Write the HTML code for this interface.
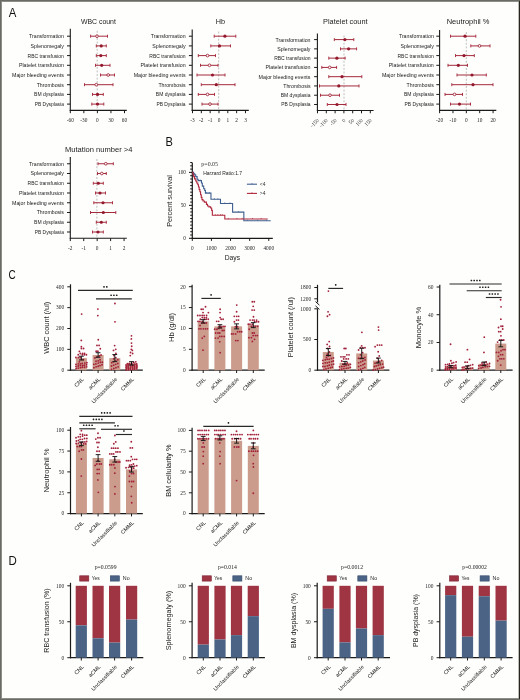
<!DOCTYPE html>
<html><head><meta charset="utf-8"><style>
html,body{margin:0;padding:0;background:#fefefd;overflow:hidden;}
#f{position:absolute;left:0;top:0;width:520px;height:700px;overflow:hidden;background:#fefefd;}
.b{position:absolute;}
#br2{left:518px;top:1px;width:1px;height:698px;background:#bdbdb7;}
#br{left:519px;top:1px;width:1px;height:698px;background:#26261e;}
#bt2{left:1px;top:1px;width:518px;height:1px;background:#8e8e89;}
#bt{left:0;top:0;width:520px;height:1px;background:#6b6b66;}
#bl2{left:1px;top:1px;width:1px;height:698px;background:#8e8e89;}
#bl{left:0;top:0;width:1px;height:700px;background:#6b6b66;}
#bb2{left:1px;top:698px;width:518px;height:1px;background:#8e8e89;}
#bb{left:0;top:699px;width:520px;height:1px;background:#6b6b66;}
svg{position:absolute;left:0;top:0;will-change:transform;}
text{font-family:"Liberation Sans", sans-serif;}
text.sf{font-family:"Liberation Serif", serif;}
</style></head><body><div id="f">
<svg width="520" height="700" viewBox="0 0 520 700">
<text x="98.40" y="24.20" font-size="7.6" text-anchor="middle" fill="#222" textLength="35.00" lengthAdjust="spacingAndGlyphs">WBC count</text>
<line x1="70.30" y1="28.80" x2="70.30" y2="110.90" stroke="#1a1a1a" stroke-width="1.1"/>
<line x1="69.80" y1="110.40" x2="126.80" y2="110.40" stroke="#1a1a1a" stroke-width="1.1"/>
<line x1="97.20" y1="30.80" x2="97.20" y2="109.40" stroke="#a8a8a8" stroke-width="0.75" stroke-dasharray="2 1.6"/>
<line x1="67.00" y1="36.20" x2="70.30" y2="36.20" stroke="#1a1a1a" stroke-width="1.0"/>
<text x="63.90" y="38.10" font-size="5.3" text-anchor="end" fill="#1a1a1a" textLength="34.90" lengthAdjust="spacingAndGlyphs">Transformation</text>
<line x1="67.00" y1="45.90" x2="70.30" y2="45.90" stroke="#1a1a1a" stroke-width="1.0"/>
<text x="63.90" y="47.80" font-size="5.3" text-anchor="end" fill="#1a1a1a" textLength="33.30" lengthAdjust="spacingAndGlyphs">Splenomegaly</text>
<line x1="67.00" y1="55.60" x2="70.30" y2="55.60" stroke="#1a1a1a" stroke-width="1.0"/>
<text x="63.90" y="57.50" font-size="5.3" text-anchor="end" fill="#1a1a1a" textLength="36.30" lengthAdjust="spacingAndGlyphs">RBC transfusion</text>
<line x1="67.00" y1="65.30" x2="70.30" y2="65.30" stroke="#1a1a1a" stroke-width="1.0"/>
<text x="63.90" y="67.20" font-size="5.3" text-anchor="end" fill="#1a1a1a" textLength="45.00" lengthAdjust="spacingAndGlyphs">Platelet transfusion</text>
<line x1="67.00" y1="75.00" x2="70.30" y2="75.00" stroke="#1a1a1a" stroke-width="1.0"/>
<text x="63.90" y="76.90" font-size="5.3" text-anchor="end" fill="#1a1a1a" textLength="51.90" lengthAdjust="spacingAndGlyphs">Major bleeding events</text>
<line x1="67.00" y1="84.70" x2="70.30" y2="84.70" stroke="#1a1a1a" stroke-width="1.0"/>
<text x="63.90" y="86.60" font-size="5.3" text-anchor="end" fill="#1a1a1a" textLength="27.20" lengthAdjust="spacingAndGlyphs">Thrombosis</text>
<line x1="67.00" y1="94.40" x2="70.30" y2="94.40" stroke="#1a1a1a" stroke-width="1.0"/>
<text x="63.90" y="96.30" font-size="5.3" text-anchor="end" fill="#1a1a1a" textLength="29.80" lengthAdjust="spacingAndGlyphs">BM dysplasia</text>
<line x1="67.00" y1="104.10" x2="70.30" y2="104.10" stroke="#1a1a1a" stroke-width="1.0"/>
<text x="63.90" y="106.00" font-size="5.3" text-anchor="end" fill="#1a1a1a" textLength="29.20" lengthAdjust="spacingAndGlyphs">PB Dysplasia</text>
<line x1="70.30" y1="110.40" x2="70.30" y2="113.20" stroke="#1a1a1a" stroke-width="1.0"/>
<text x="70.30" y="121.50" font-size="5.3" text-anchor="middle" fill="#1e1e1e" class="sf">-60</text>
<line x1="83.85" y1="110.40" x2="83.85" y2="113.20" stroke="#1a1a1a" stroke-width="1.0"/>
<text x="83.85" y="121.50" font-size="5.3" text-anchor="middle" fill="#1e1e1e" class="sf">-30</text>
<line x1="97.40" y1="110.40" x2="97.40" y2="113.20" stroke="#1a1a1a" stroke-width="1.0"/>
<text x="97.40" y="121.50" font-size="5.3" text-anchor="middle" fill="#1e1e1e" class="sf">0</text>
<line x1="110.95" y1="110.40" x2="110.95" y2="113.20" stroke="#1a1a1a" stroke-width="1.0"/>
<text x="110.95" y="121.50" font-size="5.3" text-anchor="middle" fill="#1e1e1e" class="sf">30</text>
<line x1="124.50" y1="110.40" x2="124.50" y2="113.20" stroke="#1a1a1a" stroke-width="1.0"/>
<text x="124.50" y="121.50" font-size="5.3" text-anchor="middle" fill="#1e1e1e" class="sf">60</text>
<line x1="90.60" y1="36.20" x2="107.50" y2="36.20" stroke="#a52a3c" stroke-width="1.0"/>
<line x1="90.60" y1="34.70" x2="90.60" y2="37.70" stroke="#a52a3c" stroke-width="0.95"/>
<line x1="107.50" y1="34.70" x2="107.50" y2="37.70" stroke="#a52a3c" stroke-width="0.95"/>
<circle cx="97.00" cy="36.20" r="1.35" fill="#ffffff" stroke="#9c1f33" stroke-width="0.85"/>
<line x1="96.30" y1="45.90" x2="106.30" y2="45.90" stroke="#a52a3c" stroke-width="1.0"/>
<line x1="96.30" y1="44.40" x2="96.30" y2="47.40" stroke="#a52a3c" stroke-width="0.95"/>
<line x1="106.30" y1="44.40" x2="106.30" y2="47.40" stroke="#a52a3c" stroke-width="0.95"/>
<circle cx="101.20" cy="45.90" r="1.6" fill="#94192d"/>
<line x1="96.30" y1="55.60" x2="106.30" y2="55.60" stroke="#a52a3c" stroke-width="1.0"/>
<line x1="96.30" y1="54.10" x2="96.30" y2="57.10" stroke="#a52a3c" stroke-width="0.95"/>
<line x1="106.30" y1="54.10" x2="106.30" y2="57.10" stroke="#a52a3c" stroke-width="0.95"/>
<circle cx="100.80" cy="55.60" r="1.6" fill="#94192d"/>
<line x1="95.50" y1="65.30" x2="110.00" y2="65.30" stroke="#a52a3c" stroke-width="1.0"/>
<line x1="95.50" y1="63.80" x2="95.50" y2="66.80" stroke="#a52a3c" stroke-width="0.95"/>
<line x1="110.00" y1="63.80" x2="110.00" y2="66.80" stroke="#a52a3c" stroke-width="0.95"/>
<circle cx="101.70" cy="65.30" r="1.6" fill="#94192d"/>
<line x1="100.50" y1="75.00" x2="114.50" y2="75.00" stroke="#a52a3c" stroke-width="1.0"/>
<line x1="100.50" y1="73.50" x2="100.50" y2="76.50" stroke="#a52a3c" stroke-width="0.95"/>
<line x1="114.50" y1="73.50" x2="114.50" y2="76.50" stroke="#a52a3c" stroke-width="0.95"/>
<circle cx="108.20" cy="75.00" r="1.35" fill="#ffffff" stroke="#9c1f33" stroke-width="0.85"/>
<line x1="84.50" y1="84.70" x2="113.00" y2="84.70" stroke="#a52a3c" stroke-width="1.0"/>
<line x1="84.50" y1="83.20" x2="84.50" y2="86.20" stroke="#a52a3c" stroke-width="0.95"/>
<line x1="113.00" y1="83.20" x2="113.00" y2="86.20" stroke="#a52a3c" stroke-width="0.95"/>
<circle cx="96.30" cy="84.70" r="1.35" fill="#ffffff" stroke="#9c1f33" stroke-width="0.85"/>
<line x1="92.50" y1="94.40" x2="103.30" y2="94.40" stroke="#a52a3c" stroke-width="1.0"/>
<line x1="92.50" y1="92.90" x2="92.50" y2="95.90" stroke="#a52a3c" stroke-width="0.95"/>
<line x1="103.30" y1="92.90" x2="103.30" y2="95.90" stroke="#a52a3c" stroke-width="0.95"/>
<circle cx="97.50" cy="94.40" r="1.6" fill="#94192d"/>
<line x1="91.80" y1="104.10" x2="103.80" y2="104.10" stroke="#a52a3c" stroke-width="1.0"/>
<line x1="91.80" y1="102.60" x2="91.80" y2="105.60" stroke="#a52a3c" stroke-width="0.95"/>
<line x1="103.80" y1="102.60" x2="103.80" y2="105.60" stroke="#a52a3c" stroke-width="0.95"/>
<circle cx="97.50" cy="104.10" r="1.6" fill="#94192d"/>
<text x="220.40" y="24.20" font-size="7.6" text-anchor="middle" fill="#222" textLength="9.30" lengthAdjust="spacingAndGlyphs">Hb</text>
<line x1="192.20" y1="29.50" x2="192.20" y2="110.90" stroke="#1a1a1a" stroke-width="1.1"/>
<line x1="191.70" y1="110.40" x2="248.80" y2="110.40" stroke="#1a1a1a" stroke-width="1.1"/>
<line x1="218.70" y1="31.50" x2="218.70" y2="109.40" stroke="#a8a8a8" stroke-width="0.75" stroke-dasharray="2 1.6"/>
<line x1="188.90" y1="36.20" x2="192.20" y2="36.20" stroke="#1a1a1a" stroke-width="1.0"/>
<text x="185.60" y="38.10" font-size="5.3" text-anchor="end" fill="#1a1a1a" textLength="34.90" lengthAdjust="spacingAndGlyphs">Transformation</text>
<line x1="188.90" y1="45.90" x2="192.20" y2="45.90" stroke="#1a1a1a" stroke-width="1.0"/>
<text x="185.60" y="47.80" font-size="5.3" text-anchor="end" fill="#1a1a1a" textLength="33.30" lengthAdjust="spacingAndGlyphs">Splenomegaly</text>
<line x1="188.90" y1="55.60" x2="192.20" y2="55.60" stroke="#1a1a1a" stroke-width="1.0"/>
<text x="185.60" y="57.50" font-size="5.3" text-anchor="end" fill="#1a1a1a" textLength="36.30" lengthAdjust="spacingAndGlyphs">RBC transfusion</text>
<line x1="188.90" y1="65.30" x2="192.20" y2="65.30" stroke="#1a1a1a" stroke-width="1.0"/>
<text x="185.60" y="67.20" font-size="5.3" text-anchor="end" fill="#1a1a1a" textLength="45.00" lengthAdjust="spacingAndGlyphs">Platelet transfusion</text>
<line x1="188.90" y1="75.00" x2="192.20" y2="75.00" stroke="#1a1a1a" stroke-width="1.0"/>
<text x="185.60" y="76.90" font-size="5.3" text-anchor="end" fill="#1a1a1a" textLength="51.90" lengthAdjust="spacingAndGlyphs">Major bleeding events</text>
<line x1="188.90" y1="84.70" x2="192.20" y2="84.70" stroke="#1a1a1a" stroke-width="1.0"/>
<text x="185.60" y="86.60" font-size="5.3" text-anchor="end" fill="#1a1a1a" textLength="27.20" lengthAdjust="spacingAndGlyphs">Thrombosis</text>
<line x1="188.90" y1="94.40" x2="192.20" y2="94.40" stroke="#1a1a1a" stroke-width="1.0"/>
<text x="185.60" y="96.30" font-size="5.3" text-anchor="end" fill="#1a1a1a" textLength="29.80" lengthAdjust="spacingAndGlyphs">BM dysplasia</text>
<line x1="188.90" y1="104.10" x2="192.20" y2="104.10" stroke="#1a1a1a" stroke-width="1.0"/>
<text x="185.60" y="106.00" font-size="5.3" text-anchor="end" fill="#1a1a1a" textLength="29.20" lengthAdjust="spacingAndGlyphs">PB Dysplasia</text>
<line x1="192.50" y1="110.40" x2="192.50" y2="113.20" stroke="#1a1a1a" stroke-width="1.0"/>
<text x="192.50" y="121.50" font-size="5.3" text-anchor="middle" fill="#1e1e1e" class="sf">-3</text>
<line x1="201.33" y1="110.40" x2="201.33" y2="113.20" stroke="#1a1a1a" stroke-width="1.0"/>
<text x="201.33" y="121.50" font-size="5.3" text-anchor="middle" fill="#1e1e1e" class="sf">-2</text>
<line x1="210.16" y1="110.40" x2="210.16" y2="113.20" stroke="#1a1a1a" stroke-width="1.0"/>
<text x="210.16" y="121.50" font-size="5.3" text-anchor="middle" fill="#1e1e1e" class="sf">-1</text>
<line x1="218.99" y1="110.40" x2="218.99" y2="113.20" stroke="#1a1a1a" stroke-width="1.0"/>
<text x="218.99" y="121.50" font-size="5.3" text-anchor="middle" fill="#1e1e1e" class="sf">0</text>
<line x1="227.82" y1="110.40" x2="227.82" y2="113.20" stroke="#1a1a1a" stroke-width="1.0"/>
<text x="227.82" y="121.50" font-size="5.3" text-anchor="middle" fill="#1e1e1e" class="sf">1</text>
<line x1="236.65" y1="110.40" x2="236.65" y2="113.20" stroke="#1a1a1a" stroke-width="1.0"/>
<text x="236.65" y="121.50" font-size="5.3" text-anchor="middle" fill="#1e1e1e" class="sf">2</text>
<line x1="245.48" y1="110.40" x2="245.48" y2="113.20" stroke="#1a1a1a" stroke-width="1.0"/>
<text x="245.48" y="121.50" font-size="5.3" text-anchor="middle" fill="#1e1e1e" class="sf">3</text>
<line x1="214.20" y1="36.20" x2="235.80" y2="36.20" stroke="#a52a3c" stroke-width="1.0"/>
<line x1="214.20" y1="34.70" x2="214.20" y2="37.70" stroke="#a52a3c" stroke-width="0.95"/>
<line x1="235.80" y1="34.70" x2="235.80" y2="37.70" stroke="#a52a3c" stroke-width="0.95"/>
<circle cx="224.90" cy="36.20" r="1.6" fill="#94192d"/>
<line x1="210.80" y1="45.90" x2="230.50" y2="45.90" stroke="#a52a3c" stroke-width="1.0"/>
<line x1="210.80" y1="44.40" x2="210.80" y2="47.40" stroke="#a52a3c" stroke-width="0.95"/>
<line x1="230.50" y1="44.40" x2="230.50" y2="47.40" stroke="#a52a3c" stroke-width="0.95"/>
<circle cx="219.50" cy="45.90" r="1.6" fill="#94192d"/>
<line x1="198.30" y1="55.60" x2="215.50" y2="55.60" stroke="#a52a3c" stroke-width="1.0"/>
<line x1="198.30" y1="54.10" x2="198.30" y2="57.10" stroke="#a52a3c" stroke-width="0.95"/>
<line x1="215.50" y1="54.10" x2="215.50" y2="57.10" stroke="#a52a3c" stroke-width="0.95"/>
<circle cx="207.50" cy="55.60" r="1.35" fill="#ffffff" stroke="#9c1f33" stroke-width="0.85"/>
<line x1="200.50" y1="65.30" x2="218.00" y2="65.30" stroke="#a52a3c" stroke-width="1.0"/>
<line x1="200.50" y1="63.80" x2="200.50" y2="66.80" stroke="#a52a3c" stroke-width="0.95"/>
<line x1="218.00" y1="63.80" x2="218.00" y2="66.80" stroke="#a52a3c" stroke-width="0.95"/>
<circle cx="209.50" cy="65.30" r="1.35" fill="#ffffff" stroke="#9c1f33" stroke-width="0.85"/>
<line x1="197.00" y1="75.00" x2="225.00" y2="75.00" stroke="#a52a3c" stroke-width="1.0"/>
<line x1="197.00" y1="73.50" x2="197.00" y2="76.50" stroke="#a52a3c" stroke-width="0.95"/>
<line x1="225.00" y1="73.50" x2="225.00" y2="76.50" stroke="#a52a3c" stroke-width="0.95"/>
<circle cx="212.50" cy="75.00" r="1.6" fill="#94192d"/>
<line x1="201.30" y1="84.70" x2="235.00" y2="84.70" stroke="#a52a3c" stroke-width="1.0"/>
<line x1="201.30" y1="83.20" x2="201.30" y2="86.20" stroke="#a52a3c" stroke-width="0.95"/>
<line x1="235.00" y1="83.20" x2="235.00" y2="86.20" stroke="#a52a3c" stroke-width="0.95"/>
<circle cx="216.30" cy="84.70" r="1.6" fill="#94192d"/>
<line x1="198.30" y1="94.40" x2="214.50" y2="94.40" stroke="#a52a3c" stroke-width="1.0"/>
<line x1="198.30" y1="92.90" x2="198.30" y2="95.90" stroke="#a52a3c" stroke-width="0.95"/>
<line x1="214.50" y1="92.90" x2="214.50" y2="95.90" stroke="#a52a3c" stroke-width="0.95"/>
<circle cx="207.50" cy="94.40" r="1.35" fill="#ffffff" stroke="#9c1f33" stroke-width="0.85"/>
<line x1="202.00" y1="104.10" x2="218.00" y2="104.10" stroke="#a52a3c" stroke-width="1.0"/>
<line x1="202.00" y1="102.60" x2="202.00" y2="105.60" stroke="#a52a3c" stroke-width="0.95"/>
<line x1="218.00" y1="102.60" x2="218.00" y2="105.60" stroke="#a52a3c" stroke-width="0.95"/>
<circle cx="210.00" cy="104.10" r="1.35" fill="#ffffff" stroke="#9c1f33" stroke-width="0.85"/>
<text x="345.30" y="24.20" font-size="7.6" text-anchor="middle" fill="#222" textLength="44.50" lengthAdjust="spacingAndGlyphs">Platelet count</text>
<line x1="317.40" y1="33.50" x2="317.40" y2="111.00" stroke="#1a1a1a" stroke-width="1.1"/>
<line x1="316.90" y1="110.50" x2="373.60" y2="110.50" stroke="#1a1a1a" stroke-width="1.1"/>
<line x1="344.00" y1="35.50" x2="344.00" y2="109.50" stroke="#a8a8a8" stroke-width="0.75" stroke-dasharray="2 1.6"/>
<line x1="314.10" y1="39.60" x2="317.40" y2="39.60" stroke="#1a1a1a" stroke-width="1.0"/>
<text x="310.50" y="41.50" font-size="5.3" text-anchor="end" fill="#1a1a1a" textLength="34.90" lengthAdjust="spacingAndGlyphs">Transformation</text>
<line x1="314.10" y1="48.87" x2="317.40" y2="48.87" stroke="#1a1a1a" stroke-width="1.0"/>
<text x="310.50" y="50.77" font-size="5.3" text-anchor="end" fill="#1a1a1a" textLength="33.30" lengthAdjust="spacingAndGlyphs">Splenomegaly</text>
<line x1="314.10" y1="58.14" x2="317.40" y2="58.14" stroke="#1a1a1a" stroke-width="1.0"/>
<text x="310.50" y="60.04" font-size="5.3" text-anchor="end" fill="#1a1a1a" textLength="36.30" lengthAdjust="spacingAndGlyphs">RBC transfusion</text>
<line x1="314.10" y1="67.41" x2="317.40" y2="67.41" stroke="#1a1a1a" stroke-width="1.0"/>
<text x="310.50" y="69.31" font-size="5.3" text-anchor="end" fill="#1a1a1a" textLength="45.00" lengthAdjust="spacingAndGlyphs">Platelet transfusion</text>
<line x1="314.10" y1="76.68" x2="317.40" y2="76.68" stroke="#1a1a1a" stroke-width="1.0"/>
<text x="310.50" y="78.58" font-size="5.3" text-anchor="end" fill="#1a1a1a" textLength="51.90" lengthAdjust="spacingAndGlyphs">Major bleeding events</text>
<line x1="314.10" y1="85.95" x2="317.40" y2="85.95" stroke="#1a1a1a" stroke-width="1.0"/>
<text x="310.50" y="87.85" font-size="5.3" text-anchor="end" fill="#1a1a1a" textLength="27.20" lengthAdjust="spacingAndGlyphs">Thrombosis</text>
<line x1="314.10" y1="95.22" x2="317.40" y2="95.22" stroke="#1a1a1a" stroke-width="1.0"/>
<text x="310.50" y="97.12" font-size="5.3" text-anchor="end" fill="#1a1a1a" textLength="29.80" lengthAdjust="spacingAndGlyphs">BM dysplasia</text>
<line x1="314.10" y1="104.49" x2="317.40" y2="104.49" stroke="#1a1a1a" stroke-width="1.0"/>
<text x="310.50" y="106.39" font-size="5.3" text-anchor="end" fill="#1a1a1a" textLength="29.20" lengthAdjust="spacingAndGlyphs">PB Dysplasia</text>
<line x1="317.50" y1="110.50" x2="317.50" y2="113.30" stroke="#1a1a1a" stroke-width="1.0"/>
<text x="319.50" y="120.70" font-size="5.5" text-anchor="end" fill="#333" class="sf" transform="rotate(-45 319.50 120.70)">-150</text>
<line x1="326.30" y1="110.50" x2="326.30" y2="113.30" stroke="#1a1a1a" stroke-width="1.0"/>
<text x="328.30" y="120.70" font-size="5.5" text-anchor="end" fill="#333" class="sf" transform="rotate(-45 328.30 120.70)">-100</text>
<line x1="335.10" y1="110.50" x2="335.10" y2="113.30" stroke="#1a1a1a" stroke-width="1.0"/>
<text x="337.10" y="120.70" font-size="5.5" text-anchor="end" fill="#333" class="sf" transform="rotate(-45 337.10 120.70)">-50</text>
<line x1="343.90" y1="110.50" x2="343.90" y2="113.30" stroke="#1a1a1a" stroke-width="1.0"/>
<text x="345.90" y="120.70" font-size="5.5" text-anchor="end" fill="#333" class="sf" transform="rotate(-45 345.90 120.70)">0</text>
<line x1="352.70" y1="110.50" x2="352.70" y2="113.30" stroke="#1a1a1a" stroke-width="1.0"/>
<text x="354.70" y="120.70" font-size="5.5" text-anchor="end" fill="#333" class="sf" transform="rotate(-45 354.70 120.70)">50</text>
<line x1="361.50" y1="110.50" x2="361.50" y2="113.30" stroke="#1a1a1a" stroke-width="1.0"/>
<text x="363.50" y="120.70" font-size="5.5" text-anchor="end" fill="#333" class="sf" transform="rotate(-45 363.50 120.70)">100</text>
<line x1="370.30" y1="110.50" x2="370.30" y2="113.30" stroke="#1a1a1a" stroke-width="1.0"/>
<text x="372.30" y="120.70" font-size="5.5" text-anchor="end" fill="#333" class="sf" transform="rotate(-45 372.30 120.70)">150</text>
<line x1="334.30" y1="39.60" x2="353.80" y2="39.60" stroke="#a52a3c" stroke-width="1.0"/>
<line x1="334.30" y1="38.10" x2="334.30" y2="41.10" stroke="#a52a3c" stroke-width="0.95"/>
<line x1="353.80" y1="38.10" x2="353.80" y2="41.10" stroke="#a52a3c" stroke-width="0.95"/>
<circle cx="344.90" cy="39.60" r="1.6" fill="#94192d"/>
<line x1="340.50" y1="48.87" x2="356.60" y2="48.87" stroke="#a52a3c" stroke-width="1.0"/>
<line x1="340.50" y1="47.37" x2="340.50" y2="50.37" stroke="#a52a3c" stroke-width="0.95"/>
<line x1="356.60" y1="47.37" x2="356.60" y2="50.37" stroke="#a52a3c" stroke-width="0.95"/>
<circle cx="348.60" cy="48.87" r="1.6" fill="#94192d"/>
<line x1="328.80" y1="58.14" x2="345.10" y2="58.14" stroke="#a52a3c" stroke-width="1.0"/>
<line x1="328.80" y1="56.64" x2="328.80" y2="59.64" stroke="#a52a3c" stroke-width="0.95"/>
<line x1="345.10" y1="56.64" x2="345.10" y2="59.64" stroke="#a52a3c" stroke-width="0.95"/>
<circle cx="336.90" cy="58.14" r="1.6" fill="#94192d"/>
<line x1="321.80" y1="67.41" x2="336.60" y2="67.41" stroke="#a52a3c" stroke-width="1.0"/>
<line x1="321.80" y1="65.91" x2="321.80" y2="68.91" stroke="#a52a3c" stroke-width="0.95"/>
<line x1="336.60" y1="65.91" x2="336.60" y2="68.91" stroke="#a52a3c" stroke-width="0.95"/>
<circle cx="329.70" cy="67.41" r="1.35" fill="#ffffff" stroke="#9c1f33" stroke-width="0.85"/>
<line x1="328.80" y1="76.68" x2="361.80" y2="76.68" stroke="#a52a3c" stroke-width="1.0"/>
<line x1="328.80" y1="75.18" x2="328.80" y2="78.18" stroke="#a52a3c" stroke-width="0.95"/>
<line x1="361.80" y1="75.18" x2="361.80" y2="78.18" stroke="#a52a3c" stroke-width="0.95"/>
<circle cx="342.00" cy="76.68" r="1.6" fill="#94192d"/>
<line x1="319.50" y1="85.95" x2="359.00" y2="85.95" stroke="#a52a3c" stroke-width="1.0"/>
<line x1="319.50" y1="84.45" x2="319.50" y2="87.45" stroke="#a52a3c" stroke-width="0.95"/>
<line x1="359.00" y1="84.45" x2="359.00" y2="87.45" stroke="#a52a3c" stroke-width="0.95"/>
<circle cx="338.80" cy="85.95" r="1.6" fill="#94192d"/>
<line x1="320.50" y1="95.22" x2="339.50" y2="95.22" stroke="#a52a3c" stroke-width="1.0"/>
<line x1="320.50" y1="93.72" x2="320.50" y2="96.72" stroke="#a52a3c" stroke-width="0.95"/>
<line x1="339.50" y1="93.72" x2="339.50" y2="96.72" stroke="#a52a3c" stroke-width="0.95"/>
<circle cx="330.00" cy="95.22" r="1.35" fill="#ffffff" stroke="#9c1f33" stroke-width="0.85"/>
<line x1="327.30" y1="104.49" x2="346.00" y2="104.49" stroke="#a52a3c" stroke-width="1.0"/>
<line x1="327.30" y1="102.99" x2="327.30" y2="105.99" stroke="#a52a3c" stroke-width="0.95"/>
<line x1="346.00" y1="102.99" x2="346.00" y2="105.99" stroke="#a52a3c" stroke-width="0.95"/>
<circle cx="337.00" cy="104.49" r="1.6" fill="#94192d"/>
<text x="468.10" y="24.20" font-size="7.6" text-anchor="middle" fill="#222" textLength="42.80" lengthAdjust="spacingAndGlyphs">Neutrophil %</text>
<line x1="439.60" y1="30.00" x2="439.60" y2="110.90" stroke="#1a1a1a" stroke-width="1.1"/>
<line x1="439.10" y1="110.40" x2="496.30" y2="110.40" stroke="#1a1a1a" stroke-width="1.1"/>
<line x1="466.30" y1="32.00" x2="466.30" y2="109.40" stroke="#a8a8a8" stroke-width="0.75" stroke-dasharray="2 1.6"/>
<line x1="436.30" y1="36.20" x2="439.60" y2="36.20" stroke="#1a1a1a" stroke-width="1.0"/>
<text x="433.80" y="38.10" font-size="5.3" text-anchor="end" fill="#1a1a1a" textLength="34.90" lengthAdjust="spacingAndGlyphs">Transformation</text>
<line x1="436.30" y1="45.90" x2="439.60" y2="45.90" stroke="#1a1a1a" stroke-width="1.0"/>
<text x="433.80" y="47.80" font-size="5.3" text-anchor="end" fill="#1a1a1a" textLength="33.30" lengthAdjust="spacingAndGlyphs">Splenomegaly</text>
<line x1="436.30" y1="55.60" x2="439.60" y2="55.60" stroke="#1a1a1a" stroke-width="1.0"/>
<text x="433.80" y="57.50" font-size="5.3" text-anchor="end" fill="#1a1a1a" textLength="36.30" lengthAdjust="spacingAndGlyphs">RBC transfusion</text>
<line x1="436.30" y1="65.30" x2="439.60" y2="65.30" stroke="#1a1a1a" stroke-width="1.0"/>
<text x="433.80" y="67.20" font-size="5.3" text-anchor="end" fill="#1a1a1a" textLength="45.00" lengthAdjust="spacingAndGlyphs">Platelet transfusion</text>
<line x1="436.30" y1="75.00" x2="439.60" y2="75.00" stroke="#1a1a1a" stroke-width="1.0"/>
<text x="433.80" y="76.90" font-size="5.3" text-anchor="end" fill="#1a1a1a" textLength="51.90" lengthAdjust="spacingAndGlyphs">Major bleeding events</text>
<line x1="436.30" y1="84.70" x2="439.60" y2="84.70" stroke="#1a1a1a" stroke-width="1.0"/>
<text x="433.80" y="86.60" font-size="5.3" text-anchor="end" fill="#1a1a1a" textLength="27.20" lengthAdjust="spacingAndGlyphs">Thrombosis</text>
<line x1="436.30" y1="94.40" x2="439.60" y2="94.40" stroke="#1a1a1a" stroke-width="1.0"/>
<text x="433.80" y="96.30" font-size="5.3" text-anchor="end" fill="#1a1a1a" textLength="29.80" lengthAdjust="spacingAndGlyphs">BM dysplasia</text>
<line x1="436.30" y1="104.10" x2="439.60" y2="104.10" stroke="#1a1a1a" stroke-width="1.0"/>
<text x="433.80" y="106.00" font-size="5.3" text-anchor="end" fill="#1a1a1a" textLength="29.20" lengthAdjust="spacingAndGlyphs">PB Dysplasia</text>
<line x1="439.60" y1="110.40" x2="439.60" y2="113.20" stroke="#1a1a1a" stroke-width="1.0"/>
<text x="439.60" y="121.50" font-size="5.3" text-anchor="middle" fill="#1e1e1e" class="sf">-20</text>
<line x1="452.97" y1="110.40" x2="452.97" y2="113.20" stroke="#1a1a1a" stroke-width="1.0"/>
<text x="452.97" y="121.50" font-size="5.3" text-anchor="middle" fill="#1e1e1e" class="sf">-10</text>
<line x1="466.34" y1="110.40" x2="466.34" y2="113.20" stroke="#1a1a1a" stroke-width="1.0"/>
<text x="466.34" y="121.50" font-size="5.3" text-anchor="middle" fill="#1e1e1e" class="sf">0</text>
<line x1="479.71" y1="110.40" x2="479.71" y2="113.20" stroke="#1a1a1a" stroke-width="1.0"/>
<text x="479.71" y="121.50" font-size="5.3" text-anchor="middle" fill="#1e1e1e" class="sf">10</text>
<line x1="493.08" y1="110.40" x2="493.08" y2="113.20" stroke="#1a1a1a" stroke-width="1.0"/>
<text x="493.08" y="121.50" font-size="5.3" text-anchor="middle" fill="#1e1e1e" class="sf">20</text>
<line x1="450.50" y1="36.20" x2="475.80" y2="36.20" stroke="#a52a3c" stroke-width="1.0"/>
<line x1="450.50" y1="34.70" x2="450.50" y2="37.70" stroke="#a52a3c" stroke-width="0.95"/>
<line x1="475.80" y1="34.70" x2="475.80" y2="37.70" stroke="#a52a3c" stroke-width="0.95"/>
<circle cx="465.00" cy="36.20" r="1.6" fill="#94192d"/>
<line x1="470.80" y1="45.90" x2="490.00" y2="45.90" stroke="#a52a3c" stroke-width="1.0"/>
<line x1="470.80" y1="44.40" x2="470.80" y2="47.40" stroke="#a52a3c" stroke-width="0.95"/>
<line x1="490.00" y1="44.40" x2="490.00" y2="47.40" stroke="#a52a3c" stroke-width="0.95"/>
<circle cx="479.50" cy="45.90" r="1.35" fill="#ffffff" stroke="#9c1f33" stroke-width="0.85"/>
<line x1="455.50" y1="55.60" x2="474.30" y2="55.60" stroke="#a52a3c" stroke-width="1.0"/>
<line x1="455.50" y1="54.10" x2="455.50" y2="57.10" stroke="#a52a3c" stroke-width="0.95"/>
<line x1="474.30" y1="54.10" x2="474.30" y2="57.10" stroke="#a52a3c" stroke-width="0.95"/>
<circle cx="464.00" cy="55.60" r="1.6" fill="#94192d"/>
<line x1="448.00" y1="65.30" x2="467.50" y2="65.30" stroke="#a52a3c" stroke-width="1.0"/>
<line x1="448.00" y1="63.80" x2="448.00" y2="66.80" stroke="#a52a3c" stroke-width="0.95"/>
<line x1="467.50" y1="63.80" x2="467.50" y2="66.80" stroke="#a52a3c" stroke-width="0.95"/>
<circle cx="458.30" cy="65.30" r="1.6" fill="#94192d"/>
<line x1="457.00" y1="75.00" x2="486.30" y2="75.00" stroke="#a52a3c" stroke-width="1.0"/>
<line x1="457.00" y1="73.50" x2="457.00" y2="76.50" stroke="#a52a3c" stroke-width="0.95"/>
<line x1="486.30" y1="73.50" x2="486.30" y2="76.50" stroke="#a52a3c" stroke-width="0.95"/>
<circle cx="472.00" cy="75.00" r="1.6" fill="#94192d"/>
<line x1="451.80" y1="84.70" x2="493.00" y2="84.70" stroke="#a52a3c" stroke-width="1.0"/>
<line x1="451.80" y1="83.20" x2="451.80" y2="86.20" stroke="#a52a3c" stroke-width="0.95"/>
<line x1="493.00" y1="83.20" x2="493.00" y2="86.20" stroke="#a52a3c" stroke-width="0.95"/>
<circle cx="473.00" cy="84.70" r="1.6" fill="#94192d"/>
<line x1="445.00" y1="94.40" x2="462.50" y2="94.40" stroke="#a52a3c" stroke-width="1.0"/>
<line x1="445.00" y1="92.90" x2="445.00" y2="95.90" stroke="#a52a3c" stroke-width="0.95"/>
<line x1="462.50" y1="92.90" x2="462.50" y2="95.90" stroke="#a52a3c" stroke-width="0.95"/>
<circle cx="454.50" cy="94.40" r="1.35" fill="#ffffff" stroke="#9c1f33" stroke-width="0.85"/>
<line x1="450.50" y1="104.10" x2="470.50" y2="104.10" stroke="#a52a3c" stroke-width="1.0"/>
<line x1="450.50" y1="102.60" x2="450.50" y2="105.60" stroke="#a52a3c" stroke-width="0.95"/>
<line x1="470.50" y1="102.60" x2="470.50" y2="105.60" stroke="#a52a3c" stroke-width="0.95"/>
<circle cx="459.50" cy="104.10" r="1.6" fill="#94192d"/>
<text x="98.70" y="151.50" font-size="7.6" text-anchor="middle" fill="#222" textLength="67.40" lengthAdjust="spacingAndGlyphs">Mutation number &gt;4</text>
<line x1="70.30" y1="157.00" x2="70.30" y2="238.80" stroke="#1a1a1a" stroke-width="1.1"/>
<line x1="69.80" y1="238.30" x2="126.80" y2="238.30" stroke="#1a1a1a" stroke-width="1.1"/>
<line x1="96.90" y1="159.00" x2="96.90" y2="237.30" stroke="#a8a8a8" stroke-width="0.75" stroke-dasharray="2 1.6"/>
<line x1="67.00" y1="163.75" x2="70.30" y2="163.75" stroke="#1a1a1a" stroke-width="1.0"/>
<text x="63.90" y="165.65" font-size="5.3" text-anchor="end" fill="#1a1a1a" textLength="34.90" lengthAdjust="spacingAndGlyphs">Transformation</text>
<line x1="67.00" y1="173.50" x2="70.30" y2="173.50" stroke="#1a1a1a" stroke-width="1.0"/>
<text x="63.90" y="175.40" font-size="5.3" text-anchor="end" fill="#1a1a1a" textLength="33.30" lengthAdjust="spacingAndGlyphs">Splenomegaly</text>
<line x1="67.00" y1="183.25" x2="70.30" y2="183.25" stroke="#1a1a1a" stroke-width="1.0"/>
<text x="63.90" y="185.15" font-size="5.3" text-anchor="end" fill="#1a1a1a" textLength="36.30" lengthAdjust="spacingAndGlyphs">RBC transfusion</text>
<line x1="67.00" y1="193.00" x2="70.30" y2="193.00" stroke="#1a1a1a" stroke-width="1.0"/>
<text x="63.90" y="194.90" font-size="5.3" text-anchor="end" fill="#1a1a1a" textLength="45.00" lengthAdjust="spacingAndGlyphs">Platelet transfusion</text>
<line x1="67.00" y1="202.75" x2="70.30" y2="202.75" stroke="#1a1a1a" stroke-width="1.0"/>
<text x="63.90" y="204.65" font-size="5.3" text-anchor="end" fill="#1a1a1a" textLength="51.90" lengthAdjust="spacingAndGlyphs">Major bleeding events</text>
<line x1="67.00" y1="212.50" x2="70.30" y2="212.50" stroke="#1a1a1a" stroke-width="1.0"/>
<text x="63.90" y="214.40" font-size="5.3" text-anchor="end" fill="#1a1a1a" textLength="27.20" lengthAdjust="spacingAndGlyphs">Thrombosis</text>
<line x1="67.00" y1="222.25" x2="70.30" y2="222.25" stroke="#1a1a1a" stroke-width="1.0"/>
<text x="63.90" y="224.15" font-size="5.3" text-anchor="end" fill="#1a1a1a" textLength="29.80" lengthAdjust="spacingAndGlyphs">BM dysplasia</text>
<line x1="67.00" y1="232.00" x2="70.30" y2="232.00" stroke="#1a1a1a" stroke-width="1.0"/>
<text x="63.90" y="233.90" font-size="5.3" text-anchor="end" fill="#1a1a1a" textLength="29.20" lengthAdjust="spacingAndGlyphs">PB Dysplasia</text>
<line x1="70.30" y1="238.30" x2="70.30" y2="241.10" stroke="#1a1a1a" stroke-width="1.0"/>
<text x="70.30" y="249.50" font-size="5.3" text-anchor="middle" fill="#1e1e1e" class="sf">-2</text>
<line x1="83.74" y1="238.30" x2="83.74" y2="241.10" stroke="#1a1a1a" stroke-width="1.0"/>
<text x="83.74" y="249.50" font-size="5.3" text-anchor="middle" fill="#1e1e1e" class="sf">-1</text>
<line x1="97.18" y1="238.30" x2="97.18" y2="241.10" stroke="#1a1a1a" stroke-width="1.0"/>
<text x="97.18" y="249.50" font-size="5.3" text-anchor="middle" fill="#1e1e1e" class="sf">0</text>
<line x1="110.62" y1="238.30" x2="110.62" y2="241.10" stroke="#1a1a1a" stroke-width="1.0"/>
<text x="110.62" y="249.50" font-size="5.3" text-anchor="middle" fill="#1e1e1e" class="sf">1</text>
<line x1="124.06" y1="238.30" x2="124.06" y2="241.10" stroke="#1a1a1a" stroke-width="1.0"/>
<text x="124.06" y="249.50" font-size="5.3" text-anchor="middle" fill="#1e1e1e" class="sf">2</text>
<line x1="98.00" y1="163.75" x2="113.30" y2="163.75" stroke="#a52a3c" stroke-width="1.0"/>
<line x1="98.00" y1="162.25" x2="98.00" y2="165.25" stroke="#a52a3c" stroke-width="0.95"/>
<line x1="113.30" y1="162.25" x2="113.30" y2="165.25" stroke="#a52a3c" stroke-width="0.95"/>
<circle cx="105.80" cy="163.75" r="1.35" fill="#ffffff" stroke="#9c1f33" stroke-width="0.85"/>
<line x1="97.50" y1="173.50" x2="106.30" y2="173.50" stroke="#a52a3c" stroke-width="1.0"/>
<line x1="97.50" y1="172.00" x2="97.50" y2="175.00" stroke="#a52a3c" stroke-width="0.95"/>
<line x1="106.30" y1="172.00" x2="106.30" y2="175.00" stroke="#a52a3c" stroke-width="0.95"/>
<circle cx="101.80" cy="173.50" r="1.35" fill="#ffffff" stroke="#9c1f33" stroke-width="0.85"/>
<line x1="93.30" y1="183.25" x2="103.30" y2="183.25" stroke="#a52a3c" stroke-width="1.0"/>
<line x1="93.30" y1="181.75" x2="93.30" y2="184.75" stroke="#a52a3c" stroke-width="0.95"/>
<line x1="103.30" y1="181.75" x2="103.30" y2="184.75" stroke="#a52a3c" stroke-width="0.95"/>
<circle cx="98.30" cy="183.25" r="1.6" fill="#94192d"/>
<line x1="95.50" y1="193.00" x2="105.50" y2="193.00" stroke="#a52a3c" stroke-width="1.0"/>
<line x1="95.50" y1="191.50" x2="95.50" y2="194.50" stroke="#a52a3c" stroke-width="0.95"/>
<line x1="105.50" y1="191.50" x2="105.50" y2="194.50" stroke="#a52a3c" stroke-width="0.95"/>
<circle cx="100.00" cy="193.00" r="1.6" fill="#94192d"/>
<line x1="93.80" y1="202.75" x2="112.50" y2="202.75" stroke="#a52a3c" stroke-width="1.0"/>
<line x1="93.80" y1="201.25" x2="93.80" y2="204.25" stroke="#a52a3c" stroke-width="0.95"/>
<line x1="112.50" y1="201.25" x2="112.50" y2="204.25" stroke="#a52a3c" stroke-width="0.95"/>
<circle cx="103.00" cy="202.75" r="1.6" fill="#94192d"/>
<line x1="90.50" y1="212.50" x2="115.80" y2="212.50" stroke="#a52a3c" stroke-width="1.0"/>
<line x1="90.50" y1="211.00" x2="90.50" y2="214.00" stroke="#a52a3c" stroke-width="0.95"/>
<line x1="115.80" y1="211.00" x2="115.80" y2="214.00" stroke="#a52a3c" stroke-width="0.95"/>
<circle cx="103.30" cy="212.50" r="1.6" fill="#94192d"/>
<line x1="96.30" y1="222.25" x2="106.30" y2="222.25" stroke="#a52a3c" stroke-width="1.0"/>
<line x1="96.30" y1="220.75" x2="96.30" y2="223.75" stroke="#a52a3c" stroke-width="0.95"/>
<line x1="106.30" y1="220.75" x2="106.30" y2="223.75" stroke="#a52a3c" stroke-width="0.95"/>
<circle cx="101.30" cy="222.25" r="1.6" fill="#94192d"/>
<line x1="92.50" y1="232.00" x2="103.30" y2="232.00" stroke="#a52a3c" stroke-width="1.0"/>
<line x1="92.50" y1="230.50" x2="92.50" y2="233.50" stroke="#a52a3c" stroke-width="0.95"/>
<line x1="103.30" y1="230.50" x2="103.30" y2="233.50" stroke="#a52a3c" stroke-width="0.95"/>
<circle cx="98.00" cy="232.00" r="1.6" fill="#94192d"/>
<text x="8.70" y="17.10" font-size="11.9" text-anchor="start" fill="#111" textLength="7.60" lengthAdjust="spacingAndGlyphs">A</text>
<text x="165.50" y="145.50" font-size="11.9" text-anchor="start" fill="#111" textLength="7.40" lengthAdjust="spacingAndGlyphs">B</text>
<text x="8.50" y="278.90" font-size="11.9" text-anchor="start" fill="#111" textLength="7.20" lengthAdjust="spacingAndGlyphs">C</text>
<text x="8.50" y="564.70" font-size="11.9" text-anchor="start" fill="#111" textLength="8.30" lengthAdjust="spacingAndGlyphs">D</text>
<line x1="192.30" y1="162.80" x2="192.30" y2="238.80" stroke="#1a1a1a" stroke-width="1.2"/>
<line x1="191.80" y1="238.30" x2="272.80" y2="238.30" stroke="#1a1a1a" stroke-width="1.2"/>
<line x1="189.00" y1="238.30" x2="192.30" y2="238.30" stroke="#1a1a1a" stroke-width="1.05"/>
<line x1="190.20" y1="235.01" x2="192.30" y2="235.01" stroke="#1a1a1a" stroke-width="1.05"/>
<line x1="190.20" y1="231.71" x2="192.30" y2="231.71" stroke="#1a1a1a" stroke-width="1.05"/>
<line x1="190.20" y1="228.42" x2="192.30" y2="228.42" stroke="#1a1a1a" stroke-width="1.05"/>
<line x1="190.20" y1="225.12" x2="192.30" y2="225.12" stroke="#1a1a1a" stroke-width="1.05"/>
<line x1="190.20" y1="221.83" x2="192.30" y2="221.83" stroke="#1a1a1a" stroke-width="1.05"/>
<line x1="190.20" y1="218.53" x2="192.30" y2="218.53" stroke="#1a1a1a" stroke-width="1.05"/>
<line x1="190.20" y1="215.24" x2="192.30" y2="215.24" stroke="#1a1a1a" stroke-width="1.05"/>
<line x1="190.20" y1="211.94" x2="192.30" y2="211.94" stroke="#1a1a1a" stroke-width="1.05"/>
<line x1="190.20" y1="208.65" x2="192.30" y2="208.65" stroke="#1a1a1a" stroke-width="1.05"/>
<line x1="189.00" y1="205.35" x2="192.30" y2="205.35" stroke="#1a1a1a" stroke-width="1.05"/>
<line x1="190.20" y1="202.06" x2="192.30" y2="202.06" stroke="#1a1a1a" stroke-width="1.05"/>
<line x1="190.20" y1="198.76" x2="192.30" y2="198.76" stroke="#1a1a1a" stroke-width="1.05"/>
<line x1="190.20" y1="195.47" x2="192.30" y2="195.47" stroke="#1a1a1a" stroke-width="1.05"/>
<line x1="190.20" y1="192.17" x2="192.30" y2="192.17" stroke="#1a1a1a" stroke-width="1.05"/>
<line x1="190.20" y1="188.88" x2="192.30" y2="188.88" stroke="#1a1a1a" stroke-width="1.05"/>
<line x1="190.20" y1="185.58" x2="192.30" y2="185.58" stroke="#1a1a1a" stroke-width="1.05"/>
<line x1="190.20" y1="182.28" x2="192.30" y2="182.28" stroke="#1a1a1a" stroke-width="1.05"/>
<line x1="190.20" y1="178.99" x2="192.30" y2="178.99" stroke="#1a1a1a" stroke-width="1.05"/>
<line x1="190.20" y1="175.69" x2="192.30" y2="175.69" stroke="#1a1a1a" stroke-width="1.05"/>
<line x1="189.00" y1="172.40" x2="192.30" y2="172.40" stroke="#1a1a1a" stroke-width="1.05"/>
<line x1="190.20" y1="169.11" x2="192.30" y2="169.11" stroke="#1a1a1a" stroke-width="1.05"/>
<line x1="190.20" y1="165.81" x2="192.30" y2="165.81" stroke="#1a1a1a" stroke-width="1.05"/>
<line x1="190.20" y1="162.51" x2="192.30" y2="162.51" stroke="#1a1a1a" stroke-width="1.05"/>
<line x1="192.30" y1="238.30" x2="192.30" y2="240.90" stroke="#1a1a1a" stroke-width="1.0"/>
<text x="192.30" y="249.50" font-size="5.3" text-anchor="middle" fill="#1e1e1e" class="sf">0</text>
<line x1="211.42" y1="238.30" x2="211.42" y2="240.90" stroke="#1a1a1a" stroke-width="1.0"/>
<text x="211.42" y="249.50" font-size="5.3" text-anchor="middle" fill="#1e1e1e" class="sf">1000</text>
<line x1="230.54" y1="238.30" x2="230.54" y2="240.90" stroke="#1a1a1a" stroke-width="1.0"/>
<text x="230.54" y="249.50" font-size="5.3" text-anchor="middle" fill="#1e1e1e" class="sf">2000</text>
<line x1="249.66" y1="238.30" x2="249.66" y2="240.90" stroke="#1a1a1a" stroke-width="1.0"/>
<text x="249.66" y="249.50" font-size="5.3" text-anchor="middle" fill="#1e1e1e" class="sf">3000</text>
<line x1="268.78" y1="238.30" x2="268.78" y2="240.90" stroke="#1a1a1a" stroke-width="1.0"/>
<text x="268.78" y="249.50" font-size="5.3" text-anchor="middle" fill="#1e1e1e" class="sf">4000</text>
<text x="186.00" y="240.10" font-size="5.3" text-anchor="end" fill="#1e1e1e" class="sf">0</text>
<text x="186.00" y="207.15" font-size="5.3" text-anchor="end" fill="#1e1e1e" class="sf">50</text>
<text x="186.00" y="174.20" font-size="5.3" text-anchor="end" fill="#1e1e1e" class="sf">100</text>
<text x="232.40" y="260.40" font-size="7.0" text-anchor="middle" fill="#222" textLength="15.40" lengthAdjust="spacingAndGlyphs">Days</text>
<text x="171.70" y="200.95" font-size="7.8" text-anchor="middle" fill="#222" textLength="51.60" lengthAdjust="spacingAndGlyphs" transform="rotate(-90 171.70 200.95)">Percent survival</text>
<text x="201.30" y="165.60" font-size="5.6" text-anchor="start" fill="#333" class="sf" textLength="16.80" lengthAdjust="spacingAndGlyphs">p=0.05</text>
<text x="203.20" y="175.00" font-size="5.4" text-anchor="start" fill="#222" textLength="38.90" lengthAdjust="spacingAndGlyphs">Harzard Ratio:1.7</text>
<path d="M192.27,172.31 L193.65,172.31 L193.65,173.69 L194.69,173.69 L194.69,174.90 L195.73,174.90 L195.73,176.63 L197.11,176.63 L197.11,179.23 L198.15,179.23 L198.15,180.61 L201.44,180.61 L201.44,183.04 L202.31,183.04 L202.31,186.15 L203.69,186.15 L203.69,188.75 L204.73,188.75 L204.73,190.48 L205.42,190.48 L205.42,193.08 L210.96,193.08 L210.96,199.31 L220.48,199.31 L220.48,203.46 L232.59,203.46 L232.59,212.11 L243.84,212.11 L243.84,220.77 L270.67,220.77" fill="none" stroke="#3f5f8f" stroke-width="1.1"/>
<path d="M192.27,172.31 L192.96,172.31 L192.96,174.38 L193.65,174.38 L193.65,176.63 L194.52,176.63 L194.52,178.88 L195.73,178.88 L195.73,180.96 L196.77,180.96 L196.77,183.04 L197.81,183.04 L197.81,184.77 L198.50,184.77 L198.50,187.02 L199.19,187.02 L199.19,189.61 L199.88,189.61 L199.88,191.69 L200.58,191.69 L200.58,194.81 L201.27,194.81 L201.27,197.40 L201.96,197.40 L201.96,199.65 L203.00,199.65 L203.00,201.04 L204.38,201.04 L204.38,202.08 L206.46,202.08 L206.46,204.33 L207.50,204.33 L207.50,206.06 L208.88,206.06 L208.88,206.92 L210.61,206.92 L210.61,207.96 L211.65,207.96 L211.65,210.38 L212.35,210.38 L212.35,215.23 L224.81,215.23 L224.81,219.04 L267.73,219.04" fill="none" stroke="#b0283d" stroke-width="1.1"/>
<line x1="200.23" y1="179.51" x2="200.23" y2="180.61" stroke="#3f5f8f" stroke-width="0.7"/>
<line x1="206.63" y1="191.98" x2="206.63" y2="193.08" stroke="#3f5f8f" stroke-width="0.7"/>
<line x1="209.23" y1="191.98" x2="209.23" y2="193.08" stroke="#3f5f8f" stroke-width="0.7"/>
<line x1="214.42" y1="198.21" x2="214.42" y2="199.31" stroke="#3f5f8f" stroke-width="0.7"/>
<line x1="217.88" y1="198.21" x2="217.88" y2="199.31" stroke="#3f5f8f" stroke-width="0.7"/>
<line x1="224.81" y1="202.36" x2="224.81" y2="203.46" stroke="#3f5f8f" stroke-width="0.7"/>
<line x1="230.00" y1="202.36" x2="230.00" y2="203.46" stroke="#3f5f8f" stroke-width="0.7"/>
<line x1="238.65" y1="211.01" x2="238.65" y2="212.11" stroke="#3f5f8f" stroke-width="0.7"/>
<line x1="247.31" y1="219.67" x2="247.31" y2="220.77" stroke="#3f5f8f" stroke-width="0.7"/>
<line x1="257.69" y1="219.67" x2="257.69" y2="220.77" stroke="#3f5f8f" stroke-width="0.7"/>
<line x1="266.34" y1="219.67" x2="266.34" y2="220.77" stroke="#3f5f8f" stroke-width="0.7"/>
<line x1="215.29" y1="214.13" x2="215.29" y2="215.23" stroke="#b0283d" stroke-width="0.7"/>
<line x1="217.88" y1="214.13" x2="217.88" y2="215.23" stroke="#b0283d" stroke-width="0.7"/>
<line x1="220.48" y1="214.13" x2="220.48" y2="215.23" stroke="#b0283d" stroke-width="0.7"/>
<line x1="222.21" y1="214.13" x2="222.21" y2="215.23" stroke="#b0283d" stroke-width="0.7"/>
<line x1="228.27" y1="217.94" x2="228.27" y2="219.04" stroke="#b0283d" stroke-width="0.7"/>
<line x1="236.92" y1="217.94" x2="236.92" y2="219.04" stroke="#b0283d" stroke-width="0.7"/>
<line x1="242.11" y1="217.94" x2="242.11" y2="219.04" stroke="#b0283d" stroke-width="0.7"/>
<line x1="252.50" y1="217.94" x2="252.50" y2="219.04" stroke="#b0283d" stroke-width="0.7"/>
<line x1="261.15" y1="217.94" x2="261.15" y2="219.04" stroke="#b0283d" stroke-width="0.7"/>
<line x1="246.90" y1="184.20" x2="257.00" y2="184.20" stroke="#3f5f8f" stroke-width="1.1"/>
<line x1="246.90" y1="193.40" x2="257.00" y2="193.40" stroke="#b0283d" stroke-width="1.1"/>
<line x1="251.90" y1="183.10" x2="251.90" y2="184.20" stroke="#3f5f8f" stroke-width="0.7"/>
<line x1="251.90" y1="192.30" x2="251.90" y2="193.40" stroke="#b0283d" stroke-width="0.7"/>
<text x="259.80" y="186.00" font-size="5.0" text-anchor="start" fill="#333">&lt;4</text>
<text x="259.80" y="195.20" font-size="5.0" text-anchor="start" fill="#333">&gt;4</text>
<line x1="70.50" y1="284.30" x2="70.50" y2="370.80" stroke="#1a1a1a" stroke-width="1.2"/>
<line x1="69.90" y1="370.20" x2="142.80" y2="370.20" stroke="#1a1a1a" stroke-width="1.2"/>
<line x1="67.30" y1="370.20" x2="70.50" y2="370.20" stroke="#1a1a1a" stroke-width="1.0"/>
<text x="64.10" y="372.00" font-size="5.4" text-anchor="end" fill="#1e1e1e" class="sf">0</text>
<line x1="67.30" y1="349.35" x2="70.50" y2="349.35" stroke="#1a1a1a" stroke-width="1.0"/>
<text x="64.10" y="351.15" font-size="5.4" text-anchor="end" fill="#1e1e1e" class="sf">100</text>
<line x1="67.30" y1="328.50" x2="70.50" y2="328.50" stroke="#1a1a1a" stroke-width="1.0"/>
<text x="64.10" y="330.30" font-size="5.4" text-anchor="end" fill="#1e1e1e" class="sf">200</text>
<line x1="67.30" y1="307.65" x2="70.50" y2="307.65" stroke="#1a1a1a" stroke-width="1.0"/>
<text x="64.10" y="309.45" font-size="5.4" text-anchor="end" fill="#1e1e1e" class="sf">300</text>
<line x1="67.30" y1="286.80" x2="70.50" y2="286.80" stroke="#1a1a1a" stroke-width="1.0"/>
<text x="64.10" y="288.60" font-size="5.4" text-anchor="end" fill="#1e1e1e" class="sf">400</text>
<rect x="75.90" y="358.11" width="11.00" height="12.09" fill="#cb9c8c"/>
<rect x="92.60" y="354.98" width="11.00" height="15.22" fill="#cb9c8c"/>
<rect x="109.30" y="358.11" width="11.00" height="12.09" fill="#cb9c8c"/>
<rect x="126.00" y="363.32" width="11.00" height="6.88" fill="#cb9c8c"/>
<circle cx="76.13" cy="368.53" r="0.92" fill="#a3213a"/>
<circle cx="78.28" cy="368.12" r="0.92" fill="#a3213a"/>
<circle cx="80.56" cy="367.70" r="0.92" fill="#a3213a"/>
<circle cx="82.43" cy="367.28" r="0.92" fill="#a3213a"/>
<circle cx="84.55" cy="367.28" r="0.92" fill="#a3213a"/>
<circle cx="86.69" cy="366.86" r="0.92" fill="#a3213a"/>
<circle cx="75.99" cy="366.45" r="0.92" fill="#a3213a"/>
<circle cx="78.26" cy="366.03" r="0.92" fill="#a3213a"/>
<circle cx="80.41" cy="365.61" r="0.92" fill="#a3213a"/>
<circle cx="82.60" cy="365.61" r="0.92" fill="#a3213a"/>
<circle cx="84.35" cy="365.20" r="0.92" fill="#a3213a"/>
<circle cx="86.55" cy="364.78" r="0.92" fill="#a3213a"/>
<circle cx="75.95" cy="364.36" r="0.92" fill="#a3213a"/>
<circle cx="78.40" cy="363.94" r="0.92" fill="#a3213a"/>
<circle cx="80.45" cy="363.94" r="0.92" fill="#a3213a"/>
<circle cx="82.22" cy="363.53" r="0.92" fill="#a3213a"/>
<circle cx="84.79" cy="363.11" r="0.92" fill="#a3213a"/>
<circle cx="86.88" cy="362.69" r="0.92" fill="#a3213a"/>
<circle cx="79.38" cy="361.86" r="0.92" fill="#a3213a"/>
<circle cx="81.46" cy="359.57" r="0.92" fill="#a3213a"/>
<circle cx="83.33" cy="359.57" r="0.92" fill="#a3213a"/>
<circle cx="75.91" cy="357.48" r="0.92" fill="#a3213a"/>
<circle cx="78.26" cy="357.48" r="0.92" fill="#a3213a"/>
<circle cx="80.13" cy="357.48" r="0.92" fill="#a3213a"/>
<circle cx="82.30" cy="354.77" r="0.92" fill="#a3213a"/>
<circle cx="84.42" cy="354.77" r="0.92" fill="#a3213a"/>
<circle cx="86.42" cy="354.77" r="0.92" fill="#a3213a"/>
<circle cx="78.23" cy="354.77" r="0.92" fill="#a3213a"/>
<circle cx="80.32" cy="353.52" r="0.92" fill="#a3213a"/>
<circle cx="82.62" cy="353.52" r="0.92" fill="#a3213a"/>
<circle cx="84.56" cy="353.52" r="0.92" fill="#a3213a"/>
<circle cx="79.37" cy="351.44" r="0.92" fill="#a3213a"/>
<circle cx="81.40" cy="348.52" r="0.92" fill="#a3213a"/>
<circle cx="83.58" cy="348.52" r="0.92" fill="#a3213a"/>
<circle cx="81.38" cy="346.64" r="0.92" fill="#a3213a"/>
<circle cx="81.29" cy="340.38" r="0.92" fill="#a3213a"/>
<circle cx="81.65" cy="314.11" r="0.92" fill="#a3213a"/>
<circle cx="93.89" cy="367.70" r="0.92" fill="#a3213a"/>
<circle cx="96.08" cy="366.86" r="0.92" fill="#a3213a"/>
<circle cx="98.18" cy="366.24" r="0.92" fill="#a3213a"/>
<circle cx="100.02" cy="365.61" r="0.92" fill="#a3213a"/>
<circle cx="102.06" cy="364.78" r="0.92" fill="#a3213a"/>
<circle cx="93.84" cy="364.36" r="0.92" fill="#a3213a"/>
<circle cx="95.89" cy="363.94" r="0.92" fill="#a3213a"/>
<circle cx="98.26" cy="363.11" r="0.92" fill="#a3213a"/>
<circle cx="100.30" cy="362.28" r="0.92" fill="#a3213a"/>
<circle cx="102.35" cy="362.28" r="0.92" fill="#a3213a"/>
<circle cx="96.03" cy="361.23" r="0.92" fill="#a3213a"/>
<circle cx="98.18" cy="360.82" r="0.92" fill="#a3213a"/>
<circle cx="100.02" cy="359.77" r="0.92" fill="#a3213a"/>
<circle cx="94.92" cy="357.90" r="0.92" fill="#a3213a"/>
<circle cx="96.88" cy="356.86" r="0.92" fill="#a3213a"/>
<circle cx="99.35" cy="356.02" r="0.92" fill="#a3213a"/>
<circle cx="101.03" cy="354.98" r="0.92" fill="#a3213a"/>
<circle cx="96.16" cy="351.23" r="0.92" fill="#a3213a"/>
<circle cx="97.89" cy="351.23" r="0.92" fill="#a3213a"/>
<circle cx="100.29" cy="348.72" r="0.92" fill="#a3213a"/>
<circle cx="96.97" cy="345.39" r="0.92" fill="#a3213a"/>
<circle cx="99.10" cy="345.39" r="0.92" fill="#a3213a"/>
<circle cx="98.27" cy="339.76" r="0.92" fill="#a3213a"/>
<circle cx="97.86" cy="315.57" r="0.92" fill="#a3213a"/>
<circle cx="97.88" cy="309.11" r="0.92" fill="#a3213a"/>
<circle cx="111.53" cy="369.37" r="0.92" fill="#a3213a"/>
<circle cx="113.84" cy="368.53" r="0.92" fill="#a3213a"/>
<circle cx="115.94" cy="367.70" r="0.92" fill="#a3213a"/>
<circle cx="118.12" cy="366.86" r="0.92" fill="#a3213a"/>
<circle cx="111.49" cy="366.03" r="0.92" fill="#a3213a"/>
<circle cx="113.62" cy="365.20" r="0.92" fill="#a3213a"/>
<circle cx="115.67" cy="364.36" r="0.92" fill="#a3213a"/>
<circle cx="117.81" cy="363.53" r="0.92" fill="#a3213a"/>
<circle cx="111.77" cy="362.69" r="0.92" fill="#a3213a"/>
<circle cx="113.57" cy="361.86" r="0.92" fill="#a3213a"/>
<circle cx="115.87" cy="360.82" r="0.92" fill="#a3213a"/>
<circle cx="117.81" cy="359.77" r="0.92" fill="#a3213a"/>
<circle cx="113.65" cy="358.73" r="0.92" fill="#a3213a"/>
<circle cx="115.82" cy="357.69" r="0.92" fill="#a3213a"/>
<circle cx="113.92" cy="355.61" r="0.92" fill="#a3213a"/>
<circle cx="115.90" cy="353.52" r="0.92" fill="#a3213a"/>
<circle cx="113.51" cy="350.39" r="0.92" fill="#a3213a"/>
<circle cx="115.74" cy="349.35" r="0.92" fill="#a3213a"/>
<circle cx="114.62" cy="345.60" r="0.92" fill="#a3213a"/>
<circle cx="114.99" cy="321.83" r="0.92" fill="#a3213a"/>
<circle cx="114.95" cy="303.48" r="0.92" fill="#a3213a"/>
<circle cx="126.05" cy="369.99" r="0.92" fill="#a3213a"/>
<circle cx="128.45" cy="369.78" r="0.92" fill="#a3213a"/>
<circle cx="130.53" cy="369.57" r="0.92" fill="#a3213a"/>
<circle cx="132.77" cy="369.37" r="0.92" fill="#a3213a"/>
<circle cx="134.54" cy="369.16" r="0.92" fill="#a3213a"/>
<circle cx="136.63" cy="368.95" r="0.92" fill="#a3213a"/>
<circle cx="126.37" cy="368.74" r="0.92" fill="#a3213a"/>
<circle cx="128.43" cy="368.53" r="0.92" fill="#a3213a"/>
<circle cx="130.35" cy="368.32" r="0.92" fill="#a3213a"/>
<circle cx="132.64" cy="368.12" r="0.92" fill="#a3213a"/>
<circle cx="134.60" cy="367.91" r="0.92" fill="#a3213a"/>
<circle cx="136.89" cy="367.70" r="0.92" fill="#a3213a"/>
<circle cx="126.06" cy="367.49" r="0.92" fill="#a3213a"/>
<circle cx="128.21" cy="367.28" r="0.92" fill="#a3213a"/>
<circle cx="130.65" cy="367.07" r="0.92" fill="#a3213a"/>
<circle cx="132.48" cy="366.86" r="0.92" fill="#a3213a"/>
<circle cx="134.53" cy="366.66" r="0.92" fill="#a3213a"/>
<circle cx="136.90" cy="366.45" r="0.92" fill="#a3213a"/>
<circle cx="126.32" cy="366.24" r="0.92" fill="#a3213a"/>
<circle cx="128.17" cy="366.03" r="0.92" fill="#a3213a"/>
<circle cx="130.48" cy="365.82" r="0.92" fill="#a3213a"/>
<circle cx="132.63" cy="365.61" r="0.92" fill="#a3213a"/>
<circle cx="134.48" cy="365.40" r="0.92" fill="#a3213a"/>
<circle cx="136.83" cy="365.20" r="0.92" fill="#a3213a"/>
<circle cx="126.06" cy="364.99" r="0.92" fill="#a3213a"/>
<circle cx="128.27" cy="364.78" r="0.92" fill="#a3213a"/>
<circle cx="130.24" cy="364.57" r="0.92" fill="#a3213a"/>
<circle cx="132.40" cy="364.36" r="0.92" fill="#a3213a"/>
<circle cx="134.89" cy="364.15" r="0.92" fill="#a3213a"/>
<circle cx="136.70" cy="363.94" r="0.92" fill="#a3213a"/>
<circle cx="127.55" cy="363.74" r="0.92" fill="#a3213a"/>
<circle cx="129.37" cy="363.32" r="0.92" fill="#a3213a"/>
<circle cx="131.55" cy="362.90" r="0.92" fill="#a3213a"/>
<circle cx="133.79" cy="362.49" r="0.92" fill="#a3213a"/>
<circle cx="135.79" cy="361.86" r="0.92" fill="#a3213a"/>
<circle cx="130.26" cy="355.61" r="0.92" fill="#a3213a"/>
<circle cx="132.59" cy="353.52" r="0.92" fill="#a3213a"/>
<circle cx="130.52" cy="352.48" r="0.92" fill="#a3213a"/>
<circle cx="132.39" cy="350.39" r="0.92" fill="#a3213a"/>
<circle cx="131.30" cy="349.35" r="0.92" fill="#a3213a"/>
<circle cx="131.69" cy="346.22" r="0.92" fill="#a3213a"/>
<circle cx="131.51" cy="343.10" r="0.92" fill="#a3213a"/>
<circle cx="131.35" cy="338.93" r="0.92" fill="#a3213a"/>
<circle cx="131.48" cy="335.80" r="0.92" fill="#a3213a"/>
<line x1="81.40" y1="356.23" x2="81.40" y2="359.98" stroke="#151515" stroke-width="0.95"/>
<line x1="79.00" y1="356.23" x2="83.80" y2="356.23" stroke="#151515" stroke-width="0.95"/>
<line x1="79.00" y1="359.98" x2="83.80" y2="359.98" stroke="#151515" stroke-width="0.95"/>
<line x1="98.10" y1="352.69" x2="98.10" y2="357.27" stroke="#151515" stroke-width="0.95"/>
<line x1="95.70" y1="352.69" x2="100.50" y2="352.69" stroke="#151515" stroke-width="0.95"/>
<line x1="95.70" y1="357.27" x2="100.50" y2="357.27" stroke="#151515" stroke-width="0.95"/>
<line x1="114.80" y1="354.56" x2="114.80" y2="361.65" stroke="#151515" stroke-width="0.95"/>
<line x1="112.40" y1="354.56" x2="117.20" y2="354.56" stroke="#151515" stroke-width="0.95"/>
<line x1="112.40" y1="361.65" x2="117.20" y2="361.65" stroke="#151515" stroke-width="0.95"/>
<line x1="131.50" y1="361.65" x2="131.50" y2="364.99" stroke="#151515" stroke-width="0.95"/>
<line x1="129.10" y1="361.65" x2="133.90" y2="361.65" stroke="#151515" stroke-width="0.95"/>
<line x1="129.10" y1="364.99" x2="133.90" y2="364.99" stroke="#151515" stroke-width="0.95"/>
<line x1="81.40" y1="370.20" x2="81.40" y2="373.00" stroke="#1a1a1a" stroke-width="1.0"/>
<text x="84.30" y="379.70" font-size="5.5" text-anchor="end" fill="#222" transform="rotate(-45 84.30 379.70)">CNL</text>
<line x1="98.10" y1="370.20" x2="98.10" y2="373.00" stroke="#1a1a1a" stroke-width="1.0"/>
<text x="101.00" y="379.70" font-size="5.5" text-anchor="end" fill="#222" transform="rotate(-45 101.00 379.70)">aCML</text>
<line x1="114.80" y1="370.20" x2="114.80" y2="373.00" stroke="#1a1a1a" stroke-width="1.0"/>
<text x="117.70" y="379.70" font-size="5.5" text-anchor="end" fill="#222" transform="rotate(-45 117.70 379.70)">Unclassifiable</text>
<line x1="131.50" y1="370.20" x2="131.50" y2="373.00" stroke="#1a1a1a" stroke-width="1.0"/>
<text x="134.40" y="379.70" font-size="5.5" text-anchor="end" fill="#222" transform="rotate(-45 134.40 379.70)">CMML</text>
<line x1="78.00" y1="290.40" x2="132.80" y2="290.40" stroke="#2a2a2a" stroke-width="1.15"/>
<rect x="103.20" y="286.10" width="1.6" height="1.6" rx="0.4" fill="#222"/>
<rect x="106.00" y="286.10" width="1.6" height="1.6" rx="0.4" fill="#222"/>
<line x1="96.00" y1="298.80" x2="131.80" y2="298.80" stroke="#2a2a2a" stroke-width="1.15"/>
<rect x="110.30" y="294.50" width="1.6" height="1.6" rx="0.4" fill="#222"/>
<rect x="113.10" y="294.50" width="1.6" height="1.6" rx="0.4" fill="#222"/>
<rect x="115.90" y="294.50" width="1.6" height="1.6" rx="0.4" fill="#222"/>
<text x="49.40" y="327.70" font-size="7.2" text-anchor="middle" fill="#222" textLength="52.00" lengthAdjust="spacingAndGlyphs" transform="rotate(-90 49.40 327.70)">WBC count (/ul)</text>
<line x1="192.10" y1="284.80" x2="192.10" y2="370.80" stroke="#1a1a1a" stroke-width="1.2"/>
<line x1="191.50" y1="370.20" x2="264.70" y2="370.20" stroke="#1a1a1a" stroke-width="1.2"/>
<line x1="188.90" y1="370.20" x2="192.10" y2="370.20" stroke="#1a1a1a" stroke-width="1.0"/>
<text x="185.70" y="372.00" font-size="5.4" text-anchor="end" fill="#1e1e1e" class="sf">0</text>
<line x1="188.90" y1="349.32" x2="192.10" y2="349.32" stroke="#1a1a1a" stroke-width="1.0"/>
<text x="185.70" y="351.12" font-size="5.4" text-anchor="end" fill="#1e1e1e" class="sf">5</text>
<line x1="188.90" y1="328.45" x2="192.10" y2="328.45" stroke="#1a1a1a" stroke-width="1.0"/>
<text x="185.70" y="330.25" font-size="5.4" text-anchor="end" fill="#1e1e1e" class="sf">10</text>
<line x1="188.90" y1="307.57" x2="192.10" y2="307.57" stroke="#1a1a1a" stroke-width="1.0"/>
<text x="185.70" y="309.38" font-size="5.4" text-anchor="end" fill="#1e1e1e" class="sf">15</text>
<line x1="188.90" y1="286.70" x2="192.10" y2="286.70" stroke="#1a1a1a" stroke-width="1.0"/>
<text x="185.70" y="288.50" font-size="5.4" text-anchor="end" fill="#1e1e1e" class="sf">20</text>
<rect x="197.70" y="321.35" width="11.00" height="48.85" fill="#cb9c8c"/>
<rect x="214.40" y="326.36" width="11.00" height="43.84" fill="#cb9c8c"/>
<rect x="231.10" y="326.36" width="11.00" height="43.84" fill="#cb9c8c"/>
<rect x="247.80" y="325.11" width="11.00" height="45.09" fill="#cb9c8c"/>
<circle cx="203.03" cy="350.16" r="0.92" fill="#a3213a"/>
<circle cx="202.24" cy="338.05" r="0.92" fill="#a3213a"/>
<circle cx="204.32" cy="336.38" r="0.92" fill="#a3213a"/>
<circle cx="198.99" cy="328.87" r="0.92" fill="#a3213a"/>
<circle cx="200.96" cy="328.87" r="0.92" fill="#a3213a"/>
<circle cx="203.35" cy="328.87" r="0.92" fill="#a3213a"/>
<circle cx="205.45" cy="328.87" r="0.92" fill="#a3213a"/>
<circle cx="207.41" cy="328.87" r="0.92" fill="#a3213a"/>
<circle cx="200.05" cy="325.53" r="0.92" fill="#a3213a"/>
<circle cx="202.02" cy="323.02" r="0.92" fill="#a3213a"/>
<circle cx="204.00" cy="323.02" r="0.92" fill="#a3213a"/>
<circle cx="206.29" cy="323.02" r="0.92" fill="#a3213a"/>
<circle cx="197.99" cy="321.35" r="0.92" fill="#a3213a"/>
<circle cx="199.83" cy="321.35" r="0.92" fill="#a3213a"/>
<circle cx="202.30" cy="321.35" r="0.92" fill="#a3213a"/>
<circle cx="204.12" cy="319.26" r="0.92" fill="#a3213a"/>
<circle cx="206.22" cy="319.26" r="0.92" fill="#a3213a"/>
<circle cx="208.22" cy="319.26" r="0.92" fill="#a3213a"/>
<circle cx="200.30" cy="319.26" r="0.92" fill="#a3213a"/>
<circle cx="202.27" cy="317.59" r="0.92" fill="#a3213a"/>
<circle cx="204.44" cy="317.59" r="0.92" fill="#a3213a"/>
<circle cx="206.41" cy="317.59" r="0.92" fill="#a3213a"/>
<circle cx="197.72" cy="315.51" r="0.92" fill="#a3213a"/>
<circle cx="199.96" cy="315.51" r="0.92" fill="#a3213a"/>
<circle cx="202.15" cy="315.51" r="0.92" fill="#a3213a"/>
<circle cx="204.06" cy="315.51" r="0.92" fill="#a3213a"/>
<circle cx="206.58" cy="315.51" r="0.92" fill="#a3213a"/>
<circle cx="208.38" cy="312.58" r="0.92" fill="#a3213a"/>
<circle cx="203.03" cy="312.58" r="0.92" fill="#a3213a"/>
<circle cx="201.26" cy="309.25" r="0.92" fill="#a3213a"/>
<circle cx="203.01" cy="309.25" r="0.92" fill="#a3213a"/>
<circle cx="205.51" cy="306.74" r="0.92" fill="#a3213a"/>
<circle cx="220.13" cy="352.66" r="0.92" fill="#a3213a"/>
<circle cx="219.72" cy="341.81" r="0.92" fill="#a3213a"/>
<circle cx="215.46" cy="338.05" r="0.92" fill="#a3213a"/>
<circle cx="218.05" cy="338.05" r="0.92" fill="#a3213a"/>
<circle cx="219.74" cy="336.38" r="0.92" fill="#a3213a"/>
<circle cx="221.81" cy="336.38" r="0.92" fill="#a3213a"/>
<circle cx="224.18" cy="336.38" r="0.92" fill="#a3213a"/>
<circle cx="215.62" cy="333.04" r="0.92" fill="#a3213a"/>
<circle cx="217.99" cy="333.04" r="0.92" fill="#a3213a"/>
<circle cx="219.77" cy="333.04" r="0.92" fill="#a3213a"/>
<circle cx="222.23" cy="330.54" r="0.92" fill="#a3213a"/>
<circle cx="224.01" cy="330.54" r="0.92" fill="#a3213a"/>
<circle cx="214.70" cy="329.28" r="0.92" fill="#a3213a"/>
<circle cx="216.97" cy="329.28" r="0.92" fill="#a3213a"/>
<circle cx="218.94" cy="328.45" r="0.92" fill="#a3213a"/>
<circle cx="221.16" cy="327.62" r="0.92" fill="#a3213a"/>
<circle cx="223.15" cy="326.36" r="0.92" fill="#a3213a"/>
<circle cx="224.92" cy="326.36" r="0.92" fill="#a3213a"/>
<circle cx="219.04" cy="326.36" r="0.92" fill="#a3213a"/>
<circle cx="220.99" cy="326.36" r="0.92" fill="#a3213a"/>
<circle cx="216.66" cy="321.35" r="0.92" fill="#a3213a"/>
<circle cx="218.70" cy="321.35" r="0.92" fill="#a3213a"/>
<circle cx="221.12" cy="319.26" r="0.92" fill="#a3213a"/>
<circle cx="223.09" cy="319.26" r="0.92" fill="#a3213a"/>
<circle cx="220.12" cy="317.59" r="0.92" fill="#a3213a"/>
<circle cx="220.04" cy="312.58" r="0.92" fill="#a3213a"/>
<circle cx="220.13" cy="309.25" r="0.92" fill="#a3213a"/>
<circle cx="235.76" cy="340.56" r="0.92" fill="#a3213a"/>
<circle cx="237.87" cy="340.56" r="0.92" fill="#a3213a"/>
<circle cx="231.55" cy="333.88" r="0.92" fill="#a3213a"/>
<circle cx="233.24" cy="333.88" r="0.92" fill="#a3213a"/>
<circle cx="235.60" cy="333.88" r="0.92" fill="#a3213a"/>
<circle cx="237.61" cy="331.79" r="0.92" fill="#a3213a"/>
<circle cx="239.77" cy="331.79" r="0.92" fill="#a3213a"/>
<circle cx="241.67" cy="331.79" r="0.92" fill="#a3213a"/>
<circle cx="235.40" cy="326.78" r="0.92" fill="#a3213a"/>
<circle cx="237.62" cy="326.78" r="0.92" fill="#a3213a"/>
<circle cx="234.36" cy="321.77" r="0.92" fill="#a3213a"/>
<circle cx="236.58" cy="320.10" r="0.92" fill="#a3213a"/>
<circle cx="238.46" cy="320.10" r="0.92" fill="#a3213a"/>
<circle cx="234.29" cy="316.34" r="0.92" fill="#a3213a"/>
<circle cx="236.71" cy="316.34" r="0.92" fill="#a3213a"/>
<circle cx="238.66" cy="316.34" r="0.92" fill="#a3213a"/>
<circle cx="236.61" cy="311.75" r="0.92" fill="#a3213a"/>
<circle cx="236.72" cy="305.07" r="0.92" fill="#a3213a"/>
<circle cx="252.36" cy="341.39" r="0.92" fill="#a3213a"/>
<circle cx="254.52" cy="339.31" r="0.92" fill="#a3213a"/>
<circle cx="248.94" cy="337.63" r="0.92" fill="#a3213a"/>
<circle cx="251.45" cy="337.63" r="0.92" fill="#a3213a"/>
<circle cx="253.15" cy="335.55" r="0.92" fill="#a3213a"/>
<circle cx="255.49" cy="335.55" r="0.92" fill="#a3213a"/>
<circle cx="257.30" cy="335.55" r="0.92" fill="#a3213a"/>
<circle cx="252.38" cy="333.04" r="0.92" fill="#a3213a"/>
<circle cx="254.18" cy="333.04" r="0.92" fill="#a3213a"/>
<circle cx="249.20" cy="329.28" r="0.92" fill="#a3213a"/>
<circle cx="251.31" cy="326.36" r="0.92" fill="#a3213a"/>
<circle cx="253.43" cy="326.36" r="0.92" fill="#a3213a"/>
<circle cx="255.37" cy="326.36" r="0.92" fill="#a3213a"/>
<circle cx="257.68" cy="326.36" r="0.92" fill="#a3213a"/>
<circle cx="248.29" cy="324.27" r="0.92" fill="#a3213a"/>
<circle cx="249.96" cy="324.27" r="0.92" fill="#a3213a"/>
<circle cx="252.26" cy="324.27" r="0.92" fill="#a3213a"/>
<circle cx="254.58" cy="321.77" r="0.92" fill="#a3213a"/>
<circle cx="256.57" cy="321.77" r="0.92" fill="#a3213a"/>
<circle cx="258.52" cy="321.77" r="0.92" fill="#a3213a"/>
<circle cx="250.05" cy="320.10" r="0.92" fill="#a3213a"/>
<circle cx="252.48" cy="320.10" r="0.92" fill="#a3213a"/>
<circle cx="254.14" cy="320.10" r="0.92" fill="#a3213a"/>
<circle cx="256.58" cy="320.10" r="0.92" fill="#a3213a"/>
<circle cx="253.47" cy="316.76" r="0.92" fill="#a3213a"/>
<circle cx="252.08" cy="310.08" r="0.92" fill="#a3213a"/>
<circle cx="254.26" cy="310.08" r="0.92" fill="#a3213a"/>
<circle cx="253.20" cy="306.32" r="0.92" fill="#a3213a"/>
<circle cx="252.27" cy="301.73" r="0.92" fill="#a3213a"/>
<circle cx="254.28" cy="301.73" r="0.92" fill="#a3213a"/>
<line x1="203.20" y1="319.68" x2="203.20" y2="323.02" stroke="#151515" stroke-width="0.95"/>
<line x1="200.80" y1="319.68" x2="205.60" y2="319.68" stroke="#151515" stroke-width="0.95"/>
<line x1="200.80" y1="323.02" x2="205.60" y2="323.02" stroke="#151515" stroke-width="0.95"/>
<line x1="219.90" y1="324.69" x2="219.90" y2="328.03" stroke="#151515" stroke-width="0.95"/>
<line x1="217.50" y1="324.69" x2="222.30" y2="324.69" stroke="#151515" stroke-width="0.95"/>
<line x1="217.50" y1="328.03" x2="222.30" y2="328.03" stroke="#151515" stroke-width="0.95"/>
<line x1="236.60" y1="323.86" x2="236.60" y2="328.87" stroke="#151515" stroke-width="0.95"/>
<line x1="234.20" y1="323.86" x2="239.00" y2="323.86" stroke="#151515" stroke-width="0.95"/>
<line x1="234.20" y1="328.87" x2="239.00" y2="328.87" stroke="#151515" stroke-width="0.95"/>
<line x1="253.30" y1="322.61" x2="253.30" y2="327.62" stroke="#151515" stroke-width="0.95"/>
<line x1="250.90" y1="322.61" x2="255.70" y2="322.61" stroke="#151515" stroke-width="0.95"/>
<line x1="250.90" y1="327.62" x2="255.70" y2="327.62" stroke="#151515" stroke-width="0.95"/>
<line x1="203.20" y1="370.20" x2="203.20" y2="373.00" stroke="#1a1a1a" stroke-width="1.0"/>
<text x="206.10" y="379.70" font-size="5.5" text-anchor="end" fill="#222" transform="rotate(-45 206.10 379.70)">CNL</text>
<line x1="219.90" y1="370.20" x2="219.90" y2="373.00" stroke="#1a1a1a" stroke-width="1.0"/>
<text x="222.80" y="379.70" font-size="5.5" text-anchor="end" fill="#222" transform="rotate(-45 222.80 379.70)">aCML</text>
<line x1="236.60" y1="370.20" x2="236.60" y2="373.00" stroke="#1a1a1a" stroke-width="1.0"/>
<text x="239.50" y="379.70" font-size="5.5" text-anchor="end" fill="#222" transform="rotate(-45 239.50 379.70)">Unclassifiable</text>
<line x1="253.30" y1="370.20" x2="253.30" y2="373.00" stroke="#1a1a1a" stroke-width="1.0"/>
<text x="256.20" y="379.70" font-size="5.5" text-anchor="end" fill="#222" transform="rotate(-45 256.20 379.70)">CMML</text>
<line x1="201.40" y1="298.40" x2="220.80" y2="298.40" stroke="#2a2a2a" stroke-width="1.15"/>
<rect x="210.30" y="294.10" width="1.6" height="1.6" rx="0.4" fill="#222"/>
<text x="174.30" y="327.45" font-size="7.2" text-anchor="middle" fill="#222" textLength="29.20" lengthAdjust="spacingAndGlyphs" transform="rotate(-90 174.30 327.45)">Hb (g/dl)</text>
<line x1="317.50" y1="284.80" x2="317.50" y2="302.40" stroke="#1a1a1a" stroke-width="1.2"/>
<line x1="317.50" y1="308.60" x2="317.50" y2="370.80" stroke="#1a1a1a" stroke-width="1.2"/>
<line x1="315.50" y1="301.60" x2="319.40" y2="305.10" stroke="#1a1a1a" stroke-width="1.0"/>
<line x1="315.50" y1="305.90" x2="319.40" y2="309.40" stroke="#1a1a1a" stroke-width="1.0"/>
<line x1="316.90" y1="370.20" x2="389.40" y2="370.20" stroke="#1a1a1a" stroke-width="1.2"/>
<line x1="314.30" y1="370.20" x2="317.50" y2="370.20" stroke="#1a1a1a" stroke-width="1.0"/>
<text x="311.10" y="372.00" font-size="5.4" text-anchor="end" fill="#1e1e1e" class="sf">0</text>
<line x1="314.30" y1="339.50" x2="317.50" y2="339.50" stroke="#1a1a1a" stroke-width="1.0"/>
<text x="311.10" y="341.30" font-size="5.4" text-anchor="end" fill="#1e1e1e" class="sf">500</text>
<line x1="314.30" y1="308.80" x2="317.50" y2="308.80" stroke="#1a1a1a" stroke-width="1.0"/>
<text x="311.10" y="310.60" font-size="5.4" text-anchor="end" fill="#1e1e1e" class="sf">1000</text>
<line x1="314.30" y1="298.80" x2="317.50" y2="298.80" stroke="#1a1a1a" stroke-width="1.0"/>
<text x="311.10" y="300.60" font-size="5.4" text-anchor="end" fill="#1e1e1e" class="sf">1200</text>
<line x1="314.30" y1="287.50" x2="317.50" y2="287.50" stroke="#1a1a1a" stroke-width="1.0"/>
<text x="311.10" y="289.30" font-size="5.4" text-anchor="end" fill="#1e1e1e" class="sf">1800</text>
<rect x="322.80" y="352.03" width="11.00" height="18.17" fill="#cb9c8c"/>
<rect x="339.50" y="362.83" width="11.00" height="7.37" fill="#cb9c8c"/>
<rect x="356.20" y="353.44" width="11.00" height="16.76" fill="#cb9c8c"/>
<rect x="372.90" y="360.56" width="11.00" height="9.64" fill="#cb9c8c"/>
<circle cx="323.86" cy="369.59" r="0.92" fill="#a3213a"/>
<circle cx="326.01" cy="368.97" r="0.92" fill="#a3213a"/>
<circle cx="328.25" cy="368.36" r="0.92" fill="#a3213a"/>
<circle cx="330.49" cy="367.74" r="0.92" fill="#a3213a"/>
<circle cx="332.32" cy="367.13" r="0.92" fill="#a3213a"/>
<circle cx="322.86" cy="366.52" r="0.92" fill="#a3213a"/>
<circle cx="325.02" cy="366.52" r="0.92" fill="#a3213a"/>
<circle cx="327.38" cy="365.90" r="0.92" fill="#a3213a"/>
<circle cx="329.17" cy="365.29" r="0.92" fill="#a3213a"/>
<circle cx="331.57" cy="364.67" r="0.92" fill="#a3213a"/>
<circle cx="333.63" cy="364.06" r="0.92" fill="#a3213a"/>
<circle cx="322.87" cy="363.45" r="0.92" fill="#a3213a"/>
<circle cx="325.17" cy="362.83" r="0.92" fill="#a3213a"/>
<circle cx="327.22" cy="362.83" r="0.92" fill="#a3213a"/>
<circle cx="329.31" cy="362.22" r="0.92" fill="#a3213a"/>
<circle cx="331.70" cy="361.60" r="0.92" fill="#a3213a"/>
<circle cx="333.35" cy="360.99" r="0.92" fill="#a3213a"/>
<circle cx="322.81" cy="360.38" r="0.92" fill="#a3213a"/>
<circle cx="325.37" cy="359.76" r="0.92" fill="#a3213a"/>
<circle cx="327.20" cy="359.15" r="0.92" fill="#a3213a"/>
<circle cx="329.20" cy="359.15" r="0.92" fill="#a3213a"/>
<circle cx="331.37" cy="358.53" r="0.92" fill="#a3213a"/>
<circle cx="333.48" cy="357.92" r="0.92" fill="#a3213a"/>
<circle cx="326.43" cy="357.31" r="0.92" fill="#a3213a"/>
<circle cx="328.16" cy="356.08" r="0.92" fill="#a3213a"/>
<circle cx="330.26" cy="355.46" r="0.92" fill="#a3213a"/>
<circle cx="327.29" cy="354.24" r="0.92" fill="#a3213a"/>
<circle cx="329.37" cy="352.03" r="0.92" fill="#a3213a"/>
<circle cx="327.48" cy="348.53" r="0.92" fill="#a3213a"/>
<circle cx="329.52" cy="346.50" r="0.92" fill="#a3213a"/>
<circle cx="327.18" cy="344.41" r="0.92" fill="#a3213a"/>
<circle cx="329.20" cy="341.59" r="0.92" fill="#a3213a"/>
<circle cx="327.42" cy="316.29" r="0.92" fill="#a3213a"/>
<circle cx="329.59" cy="314.63" r="0.92" fill="#a3213a"/>
<circle cx="328.07" cy="311.81" r="0.92" fill="#a3213a"/>
<circle cx="328.42" cy="291.10" r="0.92" fill="#a3213a"/>
<circle cx="339.54" cy="369.71" r="0.92" fill="#a3213a"/>
<circle cx="341.71" cy="369.28" r="0.92" fill="#a3213a"/>
<circle cx="343.85" cy="368.66" r="0.92" fill="#a3213a"/>
<circle cx="346.25" cy="368.36" r="0.92" fill="#a3213a"/>
<circle cx="348.15" cy="368.05" r="0.92" fill="#a3213a"/>
<circle cx="350.36" cy="367.44" r="0.92" fill="#a3213a"/>
<circle cx="339.55" cy="366.82" r="0.92" fill="#a3213a"/>
<circle cx="341.85" cy="366.52" r="0.92" fill="#a3213a"/>
<circle cx="344.12" cy="366.21" r="0.92" fill="#a3213a"/>
<circle cx="346.06" cy="365.59" r="0.92" fill="#a3213a"/>
<circle cx="348.37" cy="364.98" r="0.92" fill="#a3213a"/>
<circle cx="350.44" cy="364.37" r="0.92" fill="#a3213a"/>
<circle cx="342.84" cy="364.06" r="0.92" fill="#a3213a"/>
<circle cx="344.75" cy="363.75" r="0.92" fill="#a3213a"/>
<circle cx="347.23" cy="363.02" r="0.92" fill="#a3213a"/>
<circle cx="341.66" cy="360.99" r="0.92" fill="#a3213a"/>
<circle cx="343.70" cy="358.90" r="0.92" fill="#a3213a"/>
<circle cx="346.17" cy="358.90" r="0.92" fill="#a3213a"/>
<circle cx="348.32" cy="358.90" r="0.92" fill="#a3213a"/>
<circle cx="340.97" cy="356.81" r="0.92" fill="#a3213a"/>
<circle cx="343.13" cy="356.81" r="0.92" fill="#a3213a"/>
<circle cx="344.85" cy="356.81" r="0.92" fill="#a3213a"/>
<circle cx="346.89" cy="354.85" r="0.92" fill="#a3213a"/>
<circle cx="349.01" cy="354.85" r="0.92" fill="#a3213a"/>
<circle cx="344.19" cy="348.53" r="0.92" fill="#a3213a"/>
<circle cx="345.86" cy="348.53" r="0.92" fill="#a3213a"/>
<circle cx="358.59" cy="369.89" r="0.92" fill="#a3213a"/>
<circle cx="360.72" cy="369.28" r="0.92" fill="#a3213a"/>
<circle cx="362.91" cy="368.36" r="0.92" fill="#a3213a"/>
<circle cx="364.74" cy="367.44" r="0.92" fill="#a3213a"/>
<circle cx="358.63" cy="366.52" r="0.92" fill="#a3213a"/>
<circle cx="360.85" cy="365.59" r="0.92" fill="#a3213a"/>
<circle cx="362.95" cy="364.67" r="0.92" fill="#a3213a"/>
<circle cx="364.69" cy="363.75" r="0.92" fill="#a3213a"/>
<circle cx="358.63" cy="362.83" r="0.92" fill="#a3213a"/>
<circle cx="360.71" cy="361.91" r="0.92" fill="#a3213a"/>
<circle cx="362.75" cy="360.99" r="0.92" fill="#a3213a"/>
<circle cx="365.08" cy="360.01" r="0.92" fill="#a3213a"/>
<circle cx="358.56" cy="358.23" r="0.92" fill="#a3213a"/>
<circle cx="360.62" cy="358.23" r="0.92" fill="#a3213a"/>
<circle cx="362.97" cy="358.23" r="0.92" fill="#a3213a"/>
<circle cx="364.92" cy="357.49" r="0.92" fill="#a3213a"/>
<circle cx="360.55" cy="354.85" r="0.92" fill="#a3213a"/>
<circle cx="362.65" cy="352.70" r="0.92" fill="#a3213a"/>
<circle cx="358.55" cy="350.00" r="0.92" fill="#a3213a"/>
<circle cx="360.43" cy="347.79" r="0.92" fill="#a3213a"/>
<circle cx="362.80" cy="347.79" r="0.92" fill="#a3213a"/>
<circle cx="364.97" cy="347.79" r="0.92" fill="#a3213a"/>
<circle cx="361.66" cy="345.82" r="0.92" fill="#a3213a"/>
<circle cx="361.87" cy="332.32" r="0.92" fill="#a3213a"/>
<circle cx="373.16" cy="369.89" r="0.92" fill="#a3213a"/>
<circle cx="375.29" cy="369.59" r="0.92" fill="#a3213a"/>
<circle cx="377.52" cy="368.97" r="0.92" fill="#a3213a"/>
<circle cx="379.65" cy="368.36" r="0.92" fill="#a3213a"/>
<circle cx="381.74" cy="367.74" r="0.92" fill="#a3213a"/>
<circle cx="383.58" cy="367.13" r="0.92" fill="#a3213a"/>
<circle cx="374.42" cy="366.52" r="0.92" fill="#a3213a"/>
<circle cx="376.26" cy="365.90" r="0.92" fill="#a3213a"/>
<circle cx="378.30" cy="365.29" r="0.92" fill="#a3213a"/>
<circle cx="380.30" cy="364.67" r="0.92" fill="#a3213a"/>
<circle cx="382.61" cy="364.06" r="0.92" fill="#a3213a"/>
<circle cx="375.08" cy="363.14" r="0.92" fill="#a3213a"/>
<circle cx="377.24" cy="362.22" r="0.92" fill="#a3213a"/>
<circle cx="379.51" cy="361.30" r="0.92" fill="#a3213a"/>
<circle cx="381.69" cy="360.38" r="0.92" fill="#a3213a"/>
<circle cx="377.48" cy="358.23" r="0.92" fill="#a3213a"/>
<circle cx="379.24" cy="355.89" r="0.92" fill="#a3213a"/>
<circle cx="378.18" cy="351.72" r="0.92" fill="#a3213a"/>
<circle cx="375.13" cy="346.68" r="0.92" fill="#a3213a"/>
<circle cx="377.38" cy="345.09" r="0.92" fill="#a3213a"/>
<circle cx="379.62" cy="345.09" r="0.92" fill="#a3213a"/>
<circle cx="381.70" cy="345.09" r="0.92" fill="#a3213a"/>
<circle cx="378.62" cy="330.11" r="0.92" fill="#a3213a"/>
<circle cx="378.44" cy="327.10" r="0.92" fill="#a3213a"/>
<line x1="328.30" y1="348.53" x2="328.30" y2="355.53" stroke="#151515" stroke-width="0.95"/>
<line x1="325.90" y1="348.53" x2="330.70" y2="348.53" stroke="#151515" stroke-width="0.95"/>
<line x1="325.90" y1="355.53" x2="330.70" y2="355.53" stroke="#151515" stroke-width="0.95"/>
<line x1="345.00" y1="361.42" x2="345.00" y2="364.24" stroke="#151515" stroke-width="0.95"/>
<line x1="342.60" y1="361.42" x2="347.40" y2="361.42" stroke="#151515" stroke-width="0.95"/>
<line x1="342.60" y1="364.24" x2="347.40" y2="364.24" stroke="#151515" stroke-width="0.95"/>
<line x1="361.70" y1="348.22" x2="361.70" y2="358.66" stroke="#151515" stroke-width="0.95"/>
<line x1="359.30" y1="348.22" x2="364.10" y2="348.22" stroke="#151515" stroke-width="0.95"/>
<line x1="359.30" y1="358.66" x2="364.10" y2="358.66" stroke="#151515" stroke-width="0.95"/>
<line x1="378.40" y1="358.10" x2="378.40" y2="363.02" stroke="#151515" stroke-width="0.95"/>
<line x1="376.00" y1="358.10" x2="380.80" y2="358.10" stroke="#151515" stroke-width="0.95"/>
<line x1="376.00" y1="363.02" x2="380.80" y2="363.02" stroke="#151515" stroke-width="0.95"/>
<line x1="328.30" y1="370.20" x2="328.30" y2="373.00" stroke="#1a1a1a" stroke-width="1.0"/>
<text x="331.20" y="379.70" font-size="5.5" text-anchor="end" fill="#222" transform="rotate(-45 331.20 379.70)">CNL</text>
<line x1="345.00" y1="370.20" x2="345.00" y2="373.00" stroke="#1a1a1a" stroke-width="1.0"/>
<text x="347.90" y="379.70" font-size="5.5" text-anchor="end" fill="#222" transform="rotate(-45 347.90 379.70)">aCML</text>
<line x1="361.70" y1="370.20" x2="361.70" y2="373.00" stroke="#1a1a1a" stroke-width="1.0"/>
<text x="364.60" y="379.70" font-size="5.5" text-anchor="end" fill="#222" transform="rotate(-45 364.60 379.70)">Unclassifiable</text>
<line x1="378.40" y1="370.20" x2="378.40" y2="373.00" stroke="#1a1a1a" stroke-width="1.0"/>
<text x="381.30" y="379.70" font-size="5.5" text-anchor="end" fill="#222" transform="rotate(-45 381.30 379.70)">CMML</text>
<line x1="328.30" y1="288.40" x2="343.10" y2="288.40" stroke="#2a2a2a" stroke-width="1.15"/>
<rect x="334.90" y="284.10" width="1.6" height="1.6" rx="0.4" fill="#222"/>
<text x="292.80" y="327.15" font-size="7.2" text-anchor="middle" fill="#222" textLength="60.30" lengthAdjust="spacingAndGlyphs" transform="rotate(-90 292.80 327.15)">Platelet count (/ul)</text>
<line x1="439.80" y1="284.80" x2="439.80" y2="370.80" stroke="#1a1a1a" stroke-width="1.2"/>
<line x1="439.20" y1="370.20" x2="512.60" y2="370.20" stroke="#1a1a1a" stroke-width="1.2"/>
<line x1="436.60" y1="370.20" x2="439.80" y2="370.20" stroke="#1a1a1a" stroke-width="1.0"/>
<text x="433.40" y="372.00" font-size="5.4" text-anchor="end" fill="#1e1e1e" class="sf">0</text>
<line x1="436.60" y1="342.47" x2="439.80" y2="342.47" stroke="#1a1a1a" stroke-width="1.0"/>
<text x="433.40" y="344.27" font-size="5.4" text-anchor="end" fill="#1e1e1e" class="sf">20</text>
<line x1="436.60" y1="314.73" x2="439.80" y2="314.73" stroke="#1a1a1a" stroke-width="1.0"/>
<text x="433.40" y="316.53" font-size="5.4" text-anchor="end" fill="#1e1e1e" class="sf">40</text>
<line x1="436.60" y1="287.00" x2="439.80" y2="287.00" stroke="#1a1a1a" stroke-width="1.0"/>
<text x="433.40" y="288.80" font-size="5.4" text-anchor="end" fill="#1e1e1e" class="sf">60</text>
<rect x="445.20" y="366.59" width="11.00" height="3.61" fill="#cb9c8c"/>
<rect x="461.90" y="367.29" width="11.00" height="2.91" fill="#cb9c8c"/>
<rect x="478.60" y="363.82" width="11.00" height="6.38" fill="#cb9c8c"/>
<rect x="495.30" y="343.58" width="11.00" height="26.62" fill="#cb9c8c"/>
<circle cx="445.39" cy="369.78" r="0.92" fill="#a3213a"/>
<circle cx="447.42" cy="369.65" r="0.92" fill="#a3213a"/>
<circle cx="449.48" cy="369.51" r="0.92" fill="#a3213a"/>
<circle cx="451.96" cy="369.09" r="0.92" fill="#a3213a"/>
<circle cx="453.89" cy="368.95" r="0.92" fill="#a3213a"/>
<circle cx="456.05" cy="368.67" r="0.92" fill="#a3213a"/>
<circle cx="445.48" cy="368.54" r="0.92" fill="#a3213a"/>
<circle cx="447.49" cy="368.26" r="0.92" fill="#a3213a"/>
<circle cx="449.77" cy="368.12" r="0.92" fill="#a3213a"/>
<circle cx="451.79" cy="367.84" r="0.92" fill="#a3213a"/>
<circle cx="453.99" cy="367.43" r="0.92" fill="#a3213a"/>
<circle cx="456.03" cy="367.15" r="0.92" fill="#a3213a"/>
<circle cx="445.62" cy="366.87" r="0.92" fill="#a3213a"/>
<circle cx="447.52" cy="366.59" r="0.92" fill="#a3213a"/>
<circle cx="449.48" cy="366.32" r="0.92" fill="#a3213a"/>
<circle cx="451.57" cy="366.04" r="0.92" fill="#a3213a"/>
<circle cx="453.96" cy="365.76" r="0.92" fill="#a3213a"/>
<circle cx="455.78" cy="365.21" r="0.92" fill="#a3213a"/>
<circle cx="445.53" cy="364.65" r="0.92" fill="#a3213a"/>
<circle cx="447.61" cy="364.38" r="0.92" fill="#a3213a"/>
<circle cx="449.43" cy="363.96" r="0.92" fill="#a3213a"/>
<circle cx="451.89" cy="363.27" r="0.92" fill="#a3213a"/>
<circle cx="453.62" cy="362.57" r="0.92" fill="#a3213a"/>
<circle cx="456.13" cy="361.88" r="0.92" fill="#a3213a"/>
<circle cx="450.87" cy="360.77" r="0.92" fill="#a3213a"/>
<circle cx="450.56" cy="344.27" r="0.92" fill="#a3213a"/>
<circle cx="462.22" cy="369.92" r="0.92" fill="#a3213a"/>
<circle cx="464.01" cy="369.78" r="0.92" fill="#a3213a"/>
<circle cx="466.24" cy="369.37" r="0.92" fill="#a3213a"/>
<circle cx="468.31" cy="368.81" r="0.92" fill="#a3213a"/>
<circle cx="470.67" cy="368.54" r="0.92" fill="#a3213a"/>
<circle cx="472.74" cy="368.12" r="0.92" fill="#a3213a"/>
<circle cx="462.35" cy="367.43" r="0.92" fill="#a3213a"/>
<circle cx="464.04" cy="367.01" r="0.92" fill="#a3213a"/>
<circle cx="466.31" cy="366.59" r="0.92" fill="#a3213a"/>
<circle cx="468.21" cy="365.76" r="0.92" fill="#a3213a"/>
<circle cx="470.41" cy="365.35" r="0.92" fill="#a3213a"/>
<circle cx="472.65" cy="364.65" r="0.92" fill="#a3213a"/>
<circle cx="465.06" cy="362.16" r="0.92" fill="#a3213a"/>
<circle cx="467.25" cy="362.16" r="0.92" fill="#a3213a"/>
<circle cx="469.57" cy="359.38" r="0.92" fill="#a3213a"/>
<circle cx="467.42" cy="349.68" r="0.92" fill="#a3213a"/>
<circle cx="478.62" cy="368.40" r="0.92" fill="#a3213a"/>
<circle cx="481.05" cy="367.98" r="0.92" fill="#a3213a"/>
<circle cx="482.87" cy="367.43" r="0.92" fill="#a3213a"/>
<circle cx="485.13" cy="366.87" r="0.92" fill="#a3213a"/>
<circle cx="487.34" cy="366.59" r="0.92" fill="#a3213a"/>
<circle cx="489.50" cy="366.32" r="0.92" fill="#a3213a"/>
<circle cx="478.83" cy="365.76" r="0.92" fill="#a3213a"/>
<circle cx="480.95" cy="365.21" r="0.92" fill="#a3213a"/>
<circle cx="482.81" cy="364.93" r="0.92" fill="#a3213a"/>
<circle cx="485.12" cy="364.65" r="0.92" fill="#a3213a"/>
<circle cx="487.19" cy="364.10" r="0.92" fill="#a3213a"/>
<circle cx="489.53" cy="363.54" r="0.92" fill="#a3213a"/>
<circle cx="482.02" cy="362.99" r="0.92" fill="#a3213a"/>
<circle cx="484.23" cy="362.57" r="0.92" fill="#a3213a"/>
<circle cx="486.17" cy="362.02" r="0.92" fill="#a3213a"/>
<circle cx="483.94" cy="352.45" r="0.92" fill="#a3213a"/>
<circle cx="484.28" cy="337.20" r="0.92" fill="#a3213a"/>
<circle cx="500.75" cy="365.07" r="0.92" fill="#a3213a"/>
<circle cx="497.67" cy="360.77" r="0.92" fill="#a3213a"/>
<circle cx="499.93" cy="358.83" r="0.92" fill="#a3213a"/>
<circle cx="501.69" cy="358.83" r="0.92" fill="#a3213a"/>
<circle cx="503.81" cy="358.83" r="0.92" fill="#a3213a"/>
<circle cx="498.46" cy="356.33" r="0.92" fill="#a3213a"/>
<circle cx="500.61" cy="354.67" r="0.92" fill="#a3213a"/>
<circle cx="502.65" cy="354.67" r="0.92" fill="#a3213a"/>
<circle cx="496.43" cy="352.45" r="0.92" fill="#a3213a"/>
<circle cx="498.71" cy="352.45" r="0.92" fill="#a3213a"/>
<circle cx="501.04" cy="350.79" r="0.92" fill="#a3213a"/>
<circle cx="503.00" cy="349.68" r="0.92" fill="#a3213a"/>
<circle cx="504.94" cy="349.68" r="0.92" fill="#a3213a"/>
<circle cx="497.60" cy="342.05" r="0.92" fill="#a3213a"/>
<circle cx="499.85" cy="339.97" r="0.92" fill="#a3213a"/>
<circle cx="501.76" cy="339.97" r="0.92" fill="#a3213a"/>
<circle cx="503.74" cy="339.97" r="0.92" fill="#a3213a"/>
<circle cx="500.97" cy="335.81" r="0.92" fill="#a3213a"/>
<circle cx="498.76" cy="331.65" r="0.92" fill="#a3213a"/>
<circle cx="500.61" cy="331.65" r="0.92" fill="#a3213a"/>
<circle cx="502.69" cy="329.02" r="0.92" fill="#a3213a"/>
<circle cx="498.50" cy="327.49" r="0.92" fill="#a3213a"/>
<circle cx="501.03" cy="326.24" r="0.92" fill="#a3213a"/>
<circle cx="502.70" cy="326.24" r="0.92" fill="#a3213a"/>
<circle cx="500.86" cy="319.17" r="0.92" fill="#a3213a"/>
<circle cx="501.03" cy="306.83" r="0.92" fill="#a3213a"/>
<circle cx="500.57" cy="299.76" r="0.92" fill="#a3213a"/>
<line x1="450.70" y1="365.49" x2="450.70" y2="367.70" stroke="#151515" stroke-width="0.95"/>
<line x1="448.30" y1="365.49" x2="453.10" y2="365.49" stroke="#151515" stroke-width="0.95"/>
<line x1="448.30" y1="367.70" x2="453.10" y2="367.70" stroke="#151515" stroke-width="0.95"/>
<line x1="467.40" y1="365.90" x2="467.40" y2="368.67" stroke="#151515" stroke-width="0.95"/>
<line x1="465.00" y1="365.90" x2="469.80" y2="365.90" stroke="#151515" stroke-width="0.95"/>
<line x1="465.00" y1="368.67" x2="469.80" y2="368.67" stroke="#151515" stroke-width="0.95"/>
<line x1="484.10" y1="362.02" x2="484.10" y2="365.62" stroke="#151515" stroke-width="0.95"/>
<line x1="481.70" y1="362.02" x2="486.50" y2="362.02" stroke="#151515" stroke-width="0.95"/>
<line x1="481.70" y1="365.62" x2="486.50" y2="365.62" stroke="#151515" stroke-width="0.95"/>
<line x1="500.80" y1="340.39" x2="500.80" y2="346.77" stroke="#151515" stroke-width="0.95"/>
<line x1="498.40" y1="340.39" x2="503.20" y2="340.39" stroke="#151515" stroke-width="0.95"/>
<line x1="498.40" y1="346.77" x2="503.20" y2="346.77" stroke="#151515" stroke-width="0.95"/>
<line x1="450.70" y1="370.20" x2="450.70" y2="373.00" stroke="#1a1a1a" stroke-width="1.0"/>
<text x="453.60" y="379.70" font-size="5.5" text-anchor="end" fill="#222" transform="rotate(-45 453.60 379.70)">CNL</text>
<line x1="467.40" y1="370.20" x2="467.40" y2="373.00" stroke="#1a1a1a" stroke-width="1.0"/>
<text x="470.30" y="379.70" font-size="5.5" text-anchor="end" fill="#222" transform="rotate(-45 470.30 379.70)">aCML</text>
<line x1="484.10" y1="370.20" x2="484.10" y2="373.00" stroke="#1a1a1a" stroke-width="1.0"/>
<text x="487.00" y="379.70" font-size="5.5" text-anchor="end" fill="#222" transform="rotate(-45 487.00 379.70)">Unclassifiable</text>
<line x1="500.80" y1="370.20" x2="500.80" y2="373.00" stroke="#1a1a1a" stroke-width="1.0"/>
<text x="503.70" y="379.70" font-size="5.5" text-anchor="end" fill="#222" transform="rotate(-45 503.70 379.70)">CMML</text>
<line x1="449.50" y1="284.00" x2="501.70" y2="284.00" stroke="#2a2a2a" stroke-width="1.15"/>
<rect x="470.60" y="279.70" width="1.6" height="1.6" rx="0.4" fill="#222"/>
<rect x="473.40" y="279.70" width="1.6" height="1.6" rx="0.4" fill="#222"/>
<rect x="476.20" y="279.70" width="1.6" height="1.6" rx="0.4" fill="#222"/>
<rect x="479.00" y="279.70" width="1.6" height="1.6" rx="0.4" fill="#222"/>
<line x1="466.70" y1="290.70" x2="501.70" y2="290.70" stroke="#2a2a2a" stroke-width="1.15"/>
<rect x="479.20" y="286.40" width="1.6" height="1.6" rx="0.4" fill="#222"/>
<rect x="482.00" y="286.40" width="1.6" height="1.6" rx="0.4" fill="#222"/>
<rect x="484.80" y="286.40" width="1.6" height="1.6" rx="0.4" fill="#222"/>
<rect x="487.60" y="286.40" width="1.6" height="1.6" rx="0.4" fill="#222"/>
<line x1="485.80" y1="297.50" x2="501.70" y2="297.50" stroke="#2a2a2a" stroke-width="1.15"/>
<rect x="488.75" y="293.20" width="1.6" height="1.6" rx="0.4" fill="#222"/>
<rect x="491.55" y="293.20" width="1.6" height="1.6" rx="0.4" fill="#222"/>
<rect x="494.35" y="293.20" width="1.6" height="1.6" rx="0.4" fill="#222"/>
<rect x="497.15" y="293.20" width="1.6" height="1.6" rx="0.4" fill="#222"/>
<text x="421.40" y="327.50" font-size="7.2" text-anchor="middle" fill="#222" textLength="41.50" lengthAdjust="spacingAndGlyphs" transform="rotate(-90 421.40 327.50)">Monocyte %</text>
<line x1="70.50" y1="427.00" x2="70.50" y2="514.20" stroke="#1a1a1a" stroke-width="1.2"/>
<line x1="69.90" y1="513.60" x2="142.80" y2="513.60" stroke="#1a1a1a" stroke-width="1.2"/>
<line x1="67.30" y1="513.60" x2="70.50" y2="513.60" stroke="#1a1a1a" stroke-width="1.0"/>
<text x="64.10" y="515.40" font-size="5.4" text-anchor="end" fill="#1e1e1e" class="sf">0</text>
<line x1="67.30" y1="492.75" x2="70.50" y2="492.75" stroke="#1a1a1a" stroke-width="1.0"/>
<text x="64.10" y="494.55" font-size="5.4" text-anchor="end" fill="#1e1e1e" class="sf">25</text>
<line x1="67.30" y1="471.90" x2="70.50" y2="471.90" stroke="#1a1a1a" stroke-width="1.0"/>
<text x="64.10" y="473.70" font-size="5.4" text-anchor="end" fill="#1e1e1e" class="sf">50</text>
<line x1="67.30" y1="451.05" x2="70.50" y2="451.05" stroke="#1a1a1a" stroke-width="1.0"/>
<text x="64.10" y="452.85" font-size="5.4" text-anchor="end" fill="#1e1e1e" class="sf">75</text>
<line x1="67.30" y1="430.20" x2="70.50" y2="430.20" stroke="#1a1a1a" stroke-width="1.0"/>
<text x="64.10" y="432.00" font-size="5.4" text-anchor="end" fill="#1e1e1e" class="sf">100</text>
<rect x="75.90" y="443.79" width="11.00" height="69.81" fill="#cb9c8c"/>
<rect x="92.60" y="457.97" width="11.00" height="55.63" fill="#cb9c8c"/>
<rect x="109.30" y="459.31" width="11.00" height="54.29" fill="#cb9c8c"/>
<rect x="126.00" y="469.40" width="11.00" height="44.20" fill="#cb9c8c"/>
<circle cx="81.27" cy="476.07" r="0.92" fill="#a3213a"/>
<circle cx="81.40" cy="458.97" r="0.92" fill="#a3213a"/>
<circle cx="79.13" cy="451.22" r="0.92" fill="#a3213a"/>
<circle cx="81.56" cy="449.88" r="0.92" fill="#a3213a"/>
<circle cx="83.37" cy="449.88" r="0.92" fill="#a3213a"/>
<circle cx="77.23" cy="446.55" r="0.92" fill="#a3213a"/>
<circle cx="79.51" cy="446.55" r="0.92" fill="#a3213a"/>
<circle cx="81.35" cy="446.55" r="0.92" fill="#a3213a"/>
<circle cx="83.73" cy="443.79" r="0.92" fill="#a3213a"/>
<circle cx="85.72" cy="443.79" r="0.92" fill="#a3213a"/>
<circle cx="76.17" cy="443.54" r="0.92" fill="#a3213a"/>
<circle cx="78.31" cy="443.13" r="0.92" fill="#a3213a"/>
<circle cx="80.39" cy="442.71" r="0.92" fill="#a3213a"/>
<circle cx="82.38" cy="442.29" r="0.92" fill="#a3213a"/>
<circle cx="84.80" cy="441.88" r="0.92" fill="#a3213a"/>
<circle cx="86.60" cy="441.46" r="0.92" fill="#a3213a"/>
<circle cx="76.39" cy="441.04" r="0.92" fill="#a3213a"/>
<circle cx="78.43" cy="440.46" r="0.92" fill="#a3213a"/>
<circle cx="80.11" cy="439.37" r="0.92" fill="#a3213a"/>
<circle cx="82.33" cy="439.37" r="0.92" fill="#a3213a"/>
<circle cx="84.54" cy="438.54" r="0.92" fill="#a3213a"/>
<circle cx="86.81" cy="438.54" r="0.92" fill="#a3213a"/>
<circle cx="75.99" cy="437.71" r="0.92" fill="#a3213a"/>
<circle cx="78.31" cy="436.87" r="0.92" fill="#a3213a"/>
<circle cx="80.28" cy="436.87" r="0.92" fill="#a3213a"/>
<circle cx="82.59" cy="436.04" r="0.92" fill="#a3213a"/>
<circle cx="84.76" cy="435.20" r="0.92" fill="#a3213a"/>
<circle cx="86.78" cy="435.20" r="0.92" fill="#a3213a"/>
<circle cx="80.20" cy="434.37" r="0.92" fill="#a3213a"/>
<circle cx="82.58" cy="434.37" r="0.92" fill="#a3213a"/>
<circle cx="81.37" cy="430.70" r="0.92" fill="#a3213a"/>
<circle cx="98.34" cy="492.33" r="0.92" fill="#a3213a"/>
<circle cx="97.88" cy="479.91" r="0.92" fill="#a3213a"/>
<circle cx="97.16" cy="473.57" r="0.92" fill="#a3213a"/>
<circle cx="99.14" cy="473.57" r="0.92" fill="#a3213a"/>
<circle cx="97.27" cy="469.40" r="0.92" fill="#a3213a"/>
<circle cx="99.10" cy="469.40" r="0.92" fill="#a3213a"/>
<circle cx="95.16" cy="465.39" r="0.92" fill="#a3213a"/>
<circle cx="96.88" cy="463.98" r="0.92" fill="#a3213a"/>
<circle cx="99.40" cy="463.98" r="0.92" fill="#a3213a"/>
<circle cx="101.21" cy="463.98" r="0.92" fill="#a3213a"/>
<circle cx="97.94" cy="460.64" r="0.92" fill="#a3213a"/>
<circle cx="96.97" cy="451.22" r="0.92" fill="#a3213a"/>
<circle cx="99.22" cy="451.22" r="0.92" fill="#a3213a"/>
<circle cx="97.87" cy="447.21" r="0.92" fill="#a3213a"/>
<circle cx="96.99" cy="442.46" r="0.92" fill="#a3213a"/>
<circle cx="98.91" cy="442.46" r="0.92" fill="#a3213a"/>
<circle cx="95.78" cy="439.12" r="0.92" fill="#a3213a"/>
<circle cx="97.94" cy="437.71" r="0.92" fill="#a3213a"/>
<circle cx="100.07" cy="437.71" r="0.92" fill="#a3213a"/>
<circle cx="97.99" cy="433.29" r="0.92" fill="#a3213a"/>
<circle cx="114.86" cy="493.92" r="0.92" fill="#a3213a"/>
<circle cx="115.00" cy="486.58" r="0.92" fill="#a3213a"/>
<circle cx="114.78" cy="473.15" r="0.92" fill="#a3213a"/>
<circle cx="114.91" cy="467.98" r="0.92" fill="#a3213a"/>
<circle cx="109.77" cy="464.73" r="0.92" fill="#a3213a"/>
<circle cx="111.66" cy="464.73" r="0.92" fill="#a3213a"/>
<circle cx="113.87" cy="464.73" r="0.92" fill="#a3213a"/>
<circle cx="115.96" cy="461.98" r="0.92" fill="#a3213a"/>
<circle cx="118.13" cy="461.98" r="0.92" fill="#a3213a"/>
<circle cx="119.82" cy="461.98" r="0.92" fill="#a3213a"/>
<circle cx="114.63" cy="459.31" r="0.92" fill="#a3213a"/>
<circle cx="109.80" cy="453.89" r="0.92" fill="#a3213a"/>
<circle cx="111.77" cy="453.89" r="0.92" fill="#a3213a"/>
<circle cx="113.63" cy="453.89" r="0.92" fill="#a3213a"/>
<circle cx="115.97" cy="451.88" r="0.92" fill="#a3213a"/>
<circle cx="117.78" cy="451.88" r="0.92" fill="#a3213a"/>
<circle cx="119.98" cy="451.88" r="0.92" fill="#a3213a"/>
<circle cx="111.62" cy="448.13" r="0.92" fill="#a3213a"/>
<circle cx="113.61" cy="448.13" r="0.92" fill="#a3213a"/>
<circle cx="115.67" cy="448.13" r="0.92" fill="#a3213a"/>
<circle cx="117.95" cy="448.13" r="0.92" fill="#a3213a"/>
<circle cx="113.82" cy="443.79" r="0.92" fill="#a3213a"/>
<circle cx="115.76" cy="441.88" r="0.92" fill="#a3213a"/>
<circle cx="114.88" cy="435.54" r="0.92" fill="#a3213a"/>
<circle cx="131.71" cy="502.76" r="0.92" fill="#a3213a"/>
<circle cx="131.32" cy="496.34" r="0.92" fill="#a3213a"/>
<circle cx="131.53" cy="486.58" r="0.92" fill="#a3213a"/>
<circle cx="129.39" cy="481.49" r="0.92" fill="#a3213a"/>
<circle cx="131.73" cy="481.49" r="0.92" fill="#a3213a"/>
<circle cx="133.54" cy="481.49" r="0.92" fill="#a3213a"/>
<circle cx="129.37" cy="476.07" r="0.92" fill="#a3213a"/>
<circle cx="131.54" cy="473.57" r="0.92" fill="#a3213a"/>
<circle cx="133.54" cy="473.57" r="0.92" fill="#a3213a"/>
<circle cx="129.61" cy="470.82" r="0.92" fill="#a3213a"/>
<circle cx="131.69" cy="468.73" r="0.92" fill="#a3213a"/>
<circle cx="133.71" cy="468.15" r="0.92" fill="#a3213a"/>
<circle cx="126.03" cy="467.73" r="0.92" fill="#a3213a"/>
<circle cx="128.59" cy="467.31" r="0.92" fill="#a3213a"/>
<circle cx="130.47" cy="466.90" r="0.92" fill="#a3213a"/>
<circle cx="132.60" cy="466.48" r="0.92" fill="#a3213a"/>
<circle cx="134.67" cy="466.06" r="0.92" fill="#a3213a"/>
<circle cx="136.76" cy="465.64" r="0.92" fill="#a3213a"/>
<circle cx="129.62" cy="465.23" r="0.92" fill="#a3213a"/>
<circle cx="131.39" cy="464.81" r="0.92" fill="#a3213a"/>
<circle cx="133.42" cy="463.98" r="0.92" fill="#a3213a"/>
<circle cx="126.50" cy="460.64" r="0.92" fill="#a3213a"/>
<circle cx="128.23" cy="460.64" r="0.92" fill="#a3213a"/>
<circle cx="130.34" cy="460.64" r="0.92" fill="#a3213a"/>
<circle cx="132.52" cy="459.31" r="0.92" fill="#a3213a"/>
<circle cx="134.85" cy="459.31" r="0.92" fill="#a3213a"/>
<circle cx="136.69" cy="459.31" r="0.92" fill="#a3213a"/>
<circle cx="131.26" cy="456.64" r="0.92" fill="#a3213a"/>
<circle cx="130.33" cy="447.88" r="0.92" fill="#a3213a"/>
<circle cx="132.41" cy="447.88" r="0.92" fill="#a3213a"/>
<circle cx="131.26" cy="441.79" r="0.92" fill="#a3213a"/>
<line x1="81.40" y1="441.96" x2="81.40" y2="445.63" stroke="#151515" stroke-width="0.95"/>
<line x1="79.00" y1="441.96" x2="83.80" y2="441.96" stroke="#151515" stroke-width="0.95"/>
<line x1="79.00" y1="445.63" x2="83.80" y2="445.63" stroke="#151515" stroke-width="0.95"/>
<line x1="98.10" y1="454.64" x2="98.10" y2="461.31" stroke="#151515" stroke-width="0.95"/>
<line x1="95.70" y1="454.64" x2="100.50" y2="454.64" stroke="#151515" stroke-width="0.95"/>
<line x1="95.70" y1="461.31" x2="100.50" y2="461.31" stroke="#151515" stroke-width="0.95"/>
<line x1="114.80" y1="456.55" x2="114.80" y2="462.06" stroke="#151515" stroke-width="0.95"/>
<line x1="112.40" y1="456.55" x2="117.20" y2="456.55" stroke="#151515" stroke-width="0.95"/>
<line x1="112.40" y1="462.06" x2="117.20" y2="462.06" stroke="#151515" stroke-width="0.95"/>
<line x1="131.50" y1="466.73" x2="131.50" y2="472.07" stroke="#151515" stroke-width="0.95"/>
<line x1="129.10" y1="466.73" x2="133.90" y2="466.73" stroke="#151515" stroke-width="0.95"/>
<line x1="129.10" y1="472.07" x2="133.90" y2="472.07" stroke="#151515" stroke-width="0.95"/>
<line x1="81.40" y1="513.60" x2="81.40" y2="516.40" stroke="#1a1a1a" stroke-width="1.0"/>
<text x="84.30" y="523.10" font-size="5.5" text-anchor="end" fill="#222" transform="rotate(-45 84.30 523.10)">CNL</text>
<line x1="98.10" y1="513.60" x2="98.10" y2="516.40" stroke="#1a1a1a" stroke-width="1.0"/>
<text x="101.00" y="523.10" font-size="5.5" text-anchor="end" fill="#222" transform="rotate(-45 101.00 523.10)">aCML</text>
<line x1="114.80" y1="513.60" x2="114.80" y2="516.40" stroke="#1a1a1a" stroke-width="1.0"/>
<text x="117.70" y="523.10" font-size="5.5" text-anchor="end" fill="#222" transform="rotate(-45 117.70 523.10)">Unclassifiable</text>
<line x1="131.50" y1="513.60" x2="131.50" y2="516.40" stroke="#1a1a1a" stroke-width="1.0"/>
<text x="134.40" y="523.10" font-size="5.5" text-anchor="end" fill="#222" transform="rotate(-45 134.40 523.10)">CMML</text>
<line x1="79.30" y1="416.40" x2="132.50" y2="416.40" stroke="#2a2a2a" stroke-width="1.15"/>
<rect x="100.90" y="412.10" width="1.6" height="1.6" rx="0.4" fill="#222"/>
<rect x="103.70" y="412.10" width="1.6" height="1.6" rx="0.4" fill="#222"/>
<rect x="106.50" y="412.10" width="1.6" height="1.6" rx="0.4" fill="#222"/>
<rect x="109.30" y="412.10" width="1.6" height="1.6" rx="0.4" fill="#222"/>
<line x1="79.30" y1="422.90" x2="114.90" y2="422.90" stroke="#2a2a2a" stroke-width="1.15"/>
<rect x="92.70" y="418.60" width="1.6" height="1.6" rx="0.4" fill="#222"/>
<rect x="95.50" y="418.60" width="1.6" height="1.6" rx="0.4" fill="#222"/>
<rect x="98.30" y="418.60" width="1.6" height="1.6" rx="0.4" fill="#222"/>
<rect x="101.10" y="418.60" width="1.6" height="1.6" rx="0.4" fill="#222"/>
<line x1="79.30" y1="428.80" x2="95.60" y2="428.80" stroke="#2a2a2a" stroke-width="1.15"/>
<rect x="82.90" y="424.50" width="1.6" height="1.6" rx="0.4" fill="#222"/>
<rect x="85.70" y="424.50" width="1.6" height="1.6" rx="0.4" fill="#222"/>
<rect x="88.50" y="424.50" width="1.6" height="1.6" rx="0.4" fill="#222"/>
<rect x="91.30" y="424.50" width="1.6" height="1.6" rx="0.4" fill="#222"/>
<line x1="101.00" y1="429.30" x2="132.00" y2="429.30" stroke="#2a2a2a" stroke-width="1.15"/>
<rect x="114.30" y="425.00" width="1.6" height="1.6" rx="0.4" fill="#222"/>
<rect x="117.10" y="425.00" width="1.6" height="1.6" rx="0.4" fill="#222"/>
<line x1="115.80" y1="434.50" x2="132.00" y2="434.50" stroke="#2a2a2a" stroke-width="1.15"/>
<rect x="123.10" y="430.20" width="1.6" height="1.6" rx="0.4" fill="#222"/>
<text x="48.90" y="470.40" font-size="7.2" text-anchor="middle" fill="#222" textLength="44.30" lengthAdjust="spacingAndGlyphs" transform="rotate(-90 48.90 470.40)">Neutrophil %</text>
<line x1="192.10" y1="427.70" x2="192.10" y2="514.20" stroke="#1a1a1a" stroke-width="1.2"/>
<line x1="191.50" y1="513.60" x2="264.70" y2="513.60" stroke="#1a1a1a" stroke-width="1.2"/>
<line x1="188.90" y1="513.60" x2="192.10" y2="513.60" stroke="#1a1a1a" stroke-width="1.0"/>
<text x="185.70" y="515.40" font-size="5.4" text-anchor="end" fill="#1e1e1e" class="sf">0</text>
<line x1="188.90" y1="492.80" x2="192.10" y2="492.80" stroke="#1a1a1a" stroke-width="1.0"/>
<text x="185.70" y="494.60" font-size="5.4" text-anchor="end" fill="#1e1e1e" class="sf">25</text>
<line x1="188.90" y1="472.00" x2="192.10" y2="472.00" stroke="#1a1a1a" stroke-width="1.0"/>
<text x="185.70" y="473.80" font-size="5.4" text-anchor="end" fill="#1e1e1e" class="sf">50</text>
<line x1="188.90" y1="451.20" x2="192.10" y2="451.20" stroke="#1a1a1a" stroke-width="1.0"/>
<text x="185.70" y="453.00" font-size="5.4" text-anchor="end" fill="#1e1e1e" class="sf">75</text>
<line x1="188.90" y1="430.40" x2="192.10" y2="430.40" stroke="#1a1a1a" stroke-width="1.0"/>
<text x="185.70" y="432.20" font-size="5.4" text-anchor="end" fill="#1e1e1e" class="sf">100</text>
<rect x="197.70" y="438.47" width="11.00" height="75.13" fill="#cb9c8c"/>
<rect x="214.40" y="437.89" width="11.00" height="75.71" fill="#cb9c8c"/>
<rect x="231.10" y="440.80" width="11.00" height="72.80" fill="#cb9c8c"/>
<rect x="247.80" y="445.88" width="11.00" height="67.72" fill="#cb9c8c"/>
<circle cx="203.20" cy="463.68" r="0.92" fill="#a3213a"/>
<circle cx="203.23" cy="456.19" r="0.92" fill="#a3213a"/>
<circle cx="203.35" cy="451.62" r="0.92" fill="#a3213a"/>
<circle cx="202.06" cy="447.04" r="0.92" fill="#a3213a"/>
<circle cx="204.16" cy="447.04" r="0.92" fill="#a3213a"/>
<circle cx="203.30" cy="442.88" r="0.92" fill="#a3213a"/>
<circle cx="197.94" cy="438.72" r="0.92" fill="#a3213a"/>
<circle cx="199.98" cy="438.72" r="0.92" fill="#a3213a"/>
<circle cx="202.10" cy="438.72" r="0.92" fill="#a3213a"/>
<circle cx="204.16" cy="438.72" r="0.92" fill="#a3213a"/>
<circle cx="206.18" cy="438.72" r="0.92" fill="#a3213a"/>
<circle cx="208.52" cy="438.72" r="0.92" fill="#a3213a"/>
<circle cx="198.15" cy="434.56" r="0.92" fill="#a3213a"/>
<circle cx="200.14" cy="434.56" r="0.92" fill="#a3213a"/>
<circle cx="202.22" cy="434.56" r="0.92" fill="#a3213a"/>
<circle cx="204.17" cy="434.56" r="0.92" fill="#a3213a"/>
<circle cx="206.32" cy="434.56" r="0.92" fill="#a3213a"/>
<circle cx="208.27" cy="434.56" r="0.92" fill="#a3213a"/>
<circle cx="198.06" cy="430.40" r="0.92" fill="#a3213a"/>
<circle cx="199.95" cy="430.40" r="0.92" fill="#a3213a"/>
<circle cx="202.05" cy="430.40" r="0.92" fill="#a3213a"/>
<circle cx="204.49" cy="430.40" r="0.92" fill="#a3213a"/>
<circle cx="206.27" cy="430.40" r="0.92" fill="#a3213a"/>
<circle cx="208.69" cy="430.40" r="0.92" fill="#a3213a"/>
<circle cx="220.11" cy="463.68" r="0.92" fill="#a3213a"/>
<circle cx="219.74" cy="456.19" r="0.92" fill="#a3213a"/>
<circle cx="220.14" cy="451.62" r="0.92" fill="#a3213a"/>
<circle cx="219.77" cy="442.88" r="0.92" fill="#a3213a"/>
<circle cx="215.68" cy="438.72" r="0.92" fill="#a3213a"/>
<circle cx="218.00" cy="438.72" r="0.92" fill="#a3213a"/>
<circle cx="219.83" cy="438.72" r="0.92" fill="#a3213a"/>
<circle cx="222.00" cy="438.72" r="0.92" fill="#a3213a"/>
<circle cx="223.93" cy="438.72" r="0.92" fill="#a3213a"/>
<circle cx="214.88" cy="434.56" r="0.92" fill="#a3213a"/>
<circle cx="216.99" cy="434.56" r="0.92" fill="#a3213a"/>
<circle cx="218.69" cy="434.56" r="0.92" fill="#a3213a"/>
<circle cx="220.76" cy="434.56" r="0.92" fill="#a3213a"/>
<circle cx="223.04" cy="434.56" r="0.92" fill="#a3213a"/>
<circle cx="225.16" cy="434.56" r="0.92" fill="#a3213a"/>
<circle cx="214.79" cy="430.40" r="0.92" fill="#a3213a"/>
<circle cx="216.67" cy="430.40" r="0.92" fill="#a3213a"/>
<circle cx="218.90" cy="430.40" r="0.92" fill="#a3213a"/>
<circle cx="220.78" cy="430.40" r="0.92" fill="#a3213a"/>
<circle cx="222.91" cy="430.40" r="0.92" fill="#a3213a"/>
<circle cx="224.94" cy="430.40" r="0.92" fill="#a3213a"/>
<circle cx="236.57" cy="480.57" r="0.92" fill="#a3213a"/>
<circle cx="234.40" cy="447.04" r="0.92" fill="#a3213a"/>
<circle cx="236.80" cy="447.04" r="0.92" fill="#a3213a"/>
<circle cx="238.69" cy="447.04" r="0.92" fill="#a3213a"/>
<circle cx="232.19" cy="438.72" r="0.92" fill="#a3213a"/>
<circle cx="234.62" cy="438.72" r="0.92" fill="#a3213a"/>
<circle cx="236.39" cy="438.72" r="0.92" fill="#a3213a"/>
<circle cx="238.55" cy="438.72" r="0.92" fill="#a3213a"/>
<circle cx="240.59" cy="438.72" r="0.92" fill="#a3213a"/>
<circle cx="231.41" cy="434.56" r="0.92" fill="#a3213a"/>
<circle cx="233.62" cy="434.56" r="0.92" fill="#a3213a"/>
<circle cx="235.61" cy="434.56" r="0.92" fill="#a3213a"/>
<circle cx="237.51" cy="434.56" r="0.92" fill="#a3213a"/>
<circle cx="239.92" cy="434.56" r="0.92" fill="#a3213a"/>
<circle cx="242.04" cy="434.56" r="0.92" fill="#a3213a"/>
<circle cx="236.51" cy="431.23" r="0.92" fill="#a3213a"/>
<circle cx="253.29" cy="493.22" r="0.92" fill="#a3213a"/>
<circle cx="253.37" cy="467.01" r="0.92" fill="#a3213a"/>
<circle cx="253.25" cy="463.68" r="0.92" fill="#a3213a"/>
<circle cx="253.51" cy="455.36" r="0.92" fill="#a3213a"/>
<circle cx="248.86" cy="451.20" r="0.92" fill="#a3213a"/>
<circle cx="251.44" cy="451.20" r="0.92" fill="#a3213a"/>
<circle cx="253.40" cy="451.20" r="0.92" fill="#a3213a"/>
<circle cx="255.55" cy="451.20" r="0.92" fill="#a3213a"/>
<circle cx="257.65" cy="451.20" r="0.92" fill="#a3213a"/>
<circle cx="253.15" cy="447.04" r="0.92" fill="#a3213a"/>
<circle cx="253.46" cy="442.88" r="0.92" fill="#a3213a"/>
<circle cx="249.18" cy="438.72" r="0.92" fill="#a3213a"/>
<circle cx="251.02" cy="438.72" r="0.92" fill="#a3213a"/>
<circle cx="253.48" cy="438.72" r="0.92" fill="#a3213a"/>
<circle cx="255.37" cy="438.72" r="0.92" fill="#a3213a"/>
<circle cx="257.61" cy="438.72" r="0.92" fill="#a3213a"/>
<circle cx="247.84" cy="434.56" r="0.92" fill="#a3213a"/>
<circle cx="250.24" cy="434.56" r="0.92" fill="#a3213a"/>
<circle cx="252.00" cy="434.56" r="0.92" fill="#a3213a"/>
<circle cx="254.13" cy="434.56" r="0.92" fill="#a3213a"/>
<circle cx="256.25" cy="434.56" r="0.92" fill="#a3213a"/>
<circle cx="258.32" cy="434.56" r="0.92" fill="#a3213a"/>
<circle cx="253.34" cy="430.40" r="0.92" fill="#a3213a"/>
<line x1="203.20" y1="436.39" x2="203.20" y2="440.55" stroke="#151515" stroke-width="0.95"/>
<line x1="200.80" y1="436.39" x2="205.60" y2="436.39" stroke="#151515" stroke-width="0.95"/>
<line x1="200.80" y1="440.55" x2="205.60" y2="440.55" stroke="#151515" stroke-width="0.95"/>
<line x1="219.90" y1="435.81" x2="219.90" y2="439.97" stroke="#151515" stroke-width="0.95"/>
<line x1="217.50" y1="435.81" x2="222.30" y2="435.81" stroke="#151515" stroke-width="0.95"/>
<line x1="217.50" y1="439.97" x2="222.30" y2="439.97" stroke="#151515" stroke-width="0.95"/>
<line x1="236.60" y1="438.47" x2="236.60" y2="443.13" stroke="#151515" stroke-width="0.95"/>
<line x1="234.20" y1="438.47" x2="239.00" y2="438.47" stroke="#151515" stroke-width="0.95"/>
<line x1="234.20" y1="443.13" x2="239.00" y2="443.13" stroke="#151515" stroke-width="0.95"/>
<line x1="253.30" y1="442.96" x2="253.30" y2="448.79" stroke="#151515" stroke-width="0.95"/>
<line x1="250.90" y1="442.96" x2="255.70" y2="442.96" stroke="#151515" stroke-width="0.95"/>
<line x1="250.90" y1="448.79" x2="255.70" y2="448.79" stroke="#151515" stroke-width="0.95"/>
<line x1="203.20" y1="513.60" x2="203.20" y2="516.40" stroke="#1a1a1a" stroke-width="1.0"/>
<text x="206.10" y="523.10" font-size="5.5" text-anchor="end" fill="#222" transform="rotate(-45 206.10 523.10)">CNL</text>
<line x1="219.90" y1="513.60" x2="219.90" y2="516.40" stroke="#1a1a1a" stroke-width="1.0"/>
<text x="222.80" y="523.10" font-size="5.5" text-anchor="end" fill="#222" transform="rotate(-45 222.80 523.10)">aCML</text>
<line x1="236.60" y1="513.60" x2="236.60" y2="516.40" stroke="#1a1a1a" stroke-width="1.0"/>
<text x="239.50" y="523.10" font-size="5.5" text-anchor="end" fill="#222" transform="rotate(-45 239.50 523.10)">Unclassifiable</text>
<line x1="253.30" y1="513.60" x2="253.30" y2="516.40" stroke="#1a1a1a" stroke-width="1.0"/>
<text x="256.20" y="523.10" font-size="5.5" text-anchor="end" fill="#222" transform="rotate(-45 256.20 523.10)">CMML</text>
<line x1="203.30" y1="426.40" x2="253.60" y2="426.40" stroke="#2a2a2a" stroke-width="1.15"/>
<rect x="227.65" y="422.10" width="1.6" height="1.6" rx="0.4" fill="#222"/>
<text x="170.90" y="470.60" font-size="7.2" text-anchor="middle" fill="#222" textLength="52.20" lengthAdjust="spacingAndGlyphs" transform="rotate(-90 170.90 470.60)">BM cellularity %</text>
<line x1="70.50" y1="582.80" x2="70.50" y2="658.30" stroke="#1a1a1a" stroke-width="1.2"/>
<line x1="69.90" y1="657.70" x2="143.30" y2="657.70" stroke="#1a1a1a" stroke-width="1.2"/>
<line x1="67.30" y1="657.70" x2="70.50" y2="657.70" stroke="#1a1a1a" stroke-width="1.0"/>
<text x="64.10" y="659.50" font-size="5.4" text-anchor="end" fill="#1e1e1e" class="sf">0</text>
<line x1="67.30" y1="621.75" x2="70.50" y2="621.75" stroke="#1a1a1a" stroke-width="1.0"/>
<text x="64.10" y="623.55" font-size="5.4" text-anchor="end" fill="#1e1e1e" class="sf">50</text>
<line x1="67.30" y1="585.80" x2="70.50" y2="585.80" stroke="#1a1a1a" stroke-width="1.0"/>
<text x="64.10" y="587.60" font-size="5.4" text-anchor="end" fill="#1e1e1e" class="sf">100</text>
<rect x="75.70" y="585.80" width="11.20" height="39.55" fill="#9f3443"/>
<rect x="75.70" y="625.35" width="11.20" height="32.36" fill="#4b6385"/>
<rect x="92.50" y="585.80" width="11.20" height="52.49" fill="#9f3443"/>
<rect x="92.50" y="638.29" width="11.20" height="19.41" fill="#4b6385"/>
<rect x="109.00" y="585.80" width="11.20" height="56.80" fill="#9f3443"/>
<rect x="109.00" y="642.60" width="11.20" height="15.10" fill="#4b6385"/>
<rect x="126.00" y="585.80" width="11.20" height="33.79" fill="#9f3443"/>
<rect x="126.00" y="619.59" width="11.20" height="38.11" fill="#4b6385"/>
<line x1="81.30" y1="657.70" x2="81.30" y2="660.50" stroke="#1a1a1a" stroke-width="1.0"/>
<text x="84.20" y="667.20" font-size="5.5" text-anchor="end" fill="#222" transform="rotate(-45 84.20 667.20)">CNL</text>
<line x1="98.10" y1="657.70" x2="98.10" y2="660.50" stroke="#1a1a1a" stroke-width="1.0"/>
<text x="101.00" y="667.20" font-size="5.5" text-anchor="end" fill="#222" transform="rotate(-45 101.00 667.20)">aCML</text>
<line x1="114.60" y1="657.70" x2="114.60" y2="660.50" stroke="#1a1a1a" stroke-width="1.0"/>
<text x="117.50" y="667.20" font-size="5.5" text-anchor="end" fill="#222" transform="rotate(-45 117.50 667.20)">Unclassifiable</text>
<line x1="131.60" y1="657.70" x2="131.60" y2="660.50" stroke="#1a1a1a" stroke-width="1.0"/>
<text x="134.50" y="667.20" font-size="5.5" text-anchor="end" fill="#222" transform="rotate(-45 134.50 667.20)">CMML</text>
<text x="105.60" y="569.40" font-size="5.7" text-anchor="middle" fill="#1e1e1e" class="sf" textLength="21.90" lengthAdjust="spacingAndGlyphs">p=0.0599</text>
<rect x="79.70" y="575.8" width="9.1" height="5.3" fill="#9f3443" stroke="#7d2232" stroke-width="0.6"/>
<text x="91.80" y="580.20" font-size="5.8" text-anchor="start" fill="#1e1e1e" textLength="7.80" lengthAdjust="spacingAndGlyphs">Yes</text>
<rect x="110.30" y="575.8" width="9.1" height="5.3" fill="#4b6385" stroke="#334a6a" stroke-width="0.6"/>
<text x="122.80" y="580.20" font-size="5.8" text-anchor="start" fill="#1e1e1e" textLength="6.80" lengthAdjust="spacingAndGlyphs">No</text>
<text x="49.40" y="620.50" font-size="7.2" text-anchor="middle" fill="#222" textLength="64.30" lengthAdjust="spacingAndGlyphs" transform="rotate(-90 49.40 620.50)">RBC transfusion (%)</text>
<line x1="192.10" y1="582.80" x2="192.10" y2="658.30" stroke="#1a1a1a" stroke-width="1.2"/>
<line x1="191.50" y1="657.70" x2="264.90" y2="657.70" stroke="#1a1a1a" stroke-width="1.2"/>
<line x1="188.90" y1="657.70" x2="192.10" y2="657.70" stroke="#1a1a1a" stroke-width="1.0"/>
<text x="185.70" y="659.50" font-size="5.4" text-anchor="end" fill="#1e1e1e" class="sf">0</text>
<line x1="188.90" y1="621.75" x2="192.10" y2="621.75" stroke="#1a1a1a" stroke-width="1.0"/>
<text x="185.70" y="623.55" font-size="5.4" text-anchor="end" fill="#1e1e1e" class="sf">50</text>
<line x1="188.90" y1="585.80" x2="192.10" y2="585.80" stroke="#1a1a1a" stroke-width="1.0"/>
<text x="185.70" y="587.60" font-size="5.4" text-anchor="end" fill="#1e1e1e" class="sf">100</text>
<rect x="197.70" y="585.80" width="11.20" height="58.81" fill="#9f3443"/>
<rect x="197.70" y="644.61" width="11.20" height="13.09" fill="#4b6385"/>
<rect x="214.40" y="585.80" width="11.20" height="53.71" fill="#9f3443"/>
<rect x="214.40" y="639.51" width="11.20" height="18.19" fill="#4b6385"/>
<rect x="230.90" y="585.80" width="11.20" height="49.32" fill="#9f3443"/>
<rect x="230.90" y="635.12" width="11.20" height="22.58" fill="#4b6385"/>
<rect x="247.70" y="585.80" width="11.20" height="30.34" fill="#9f3443"/>
<rect x="247.70" y="616.14" width="11.20" height="41.56" fill="#4b6385"/>
<line x1="203.30" y1="657.70" x2="203.30" y2="660.50" stroke="#1a1a1a" stroke-width="1.0"/>
<text x="206.20" y="667.20" font-size="5.5" text-anchor="end" fill="#222" transform="rotate(-45 206.20 667.20)">CNL</text>
<line x1="220.00" y1="657.70" x2="220.00" y2="660.50" stroke="#1a1a1a" stroke-width="1.0"/>
<text x="222.90" y="667.20" font-size="5.5" text-anchor="end" fill="#222" transform="rotate(-45 222.90 667.20)">aCML</text>
<line x1="236.50" y1="657.70" x2="236.50" y2="660.50" stroke="#1a1a1a" stroke-width="1.0"/>
<text x="239.40" y="667.20" font-size="5.5" text-anchor="end" fill="#222" transform="rotate(-45 239.40 667.20)">Unclassifiable</text>
<line x1="253.30" y1="657.70" x2="253.30" y2="660.50" stroke="#1a1a1a" stroke-width="1.0"/>
<text x="256.20" y="667.20" font-size="5.5" text-anchor="end" fill="#222" transform="rotate(-45 256.20 667.20)">CMML</text>
<text x="227.40" y="569.40" font-size="5.7" text-anchor="middle" fill="#1e1e1e" class="sf" textLength="19.00" lengthAdjust="spacingAndGlyphs">p=0.014</text>
<rect x="202.20" y="575.8" width="9.1" height="5.3" fill="#9f3443" stroke="#7d2232" stroke-width="0.6"/>
<text x="214.30" y="580.20" font-size="5.8" text-anchor="start" fill="#1e1e1e" textLength="7.80" lengthAdjust="spacingAndGlyphs">Yes</text>
<rect x="232.80" y="575.8" width="9.1" height="5.3" fill="#4b6385" stroke="#334a6a" stroke-width="0.6"/>
<text x="245.30" y="580.20" font-size="5.8" text-anchor="start" fill="#1e1e1e" textLength="6.80" lengthAdjust="spacingAndGlyphs">No</text>
<text x="171.20" y="620.50" font-size="7.2" text-anchor="middle" fill="#222" textLength="59.50" lengthAdjust="spacingAndGlyphs" transform="rotate(-90 171.20 620.50)">Splenomegaly (%)</text>
<line x1="317.20" y1="582.80" x2="317.20" y2="658.30" stroke="#1a1a1a" stroke-width="1.2"/>
<line x1="316.60" y1="657.70" x2="390.00" y2="657.70" stroke="#1a1a1a" stroke-width="1.2"/>
<line x1="314.00" y1="657.70" x2="317.20" y2="657.70" stroke="#1a1a1a" stroke-width="1.0"/>
<text x="310.80" y="659.50" font-size="5.4" text-anchor="end" fill="#1e1e1e" class="sf">0</text>
<line x1="314.00" y1="621.75" x2="317.20" y2="621.75" stroke="#1a1a1a" stroke-width="1.0"/>
<text x="310.80" y="623.55" font-size="5.4" text-anchor="end" fill="#1e1e1e" class="sf">50</text>
<line x1="314.00" y1="585.80" x2="317.20" y2="585.80" stroke="#1a1a1a" stroke-width="1.0"/>
<text x="310.80" y="587.60" font-size="5.4" text-anchor="end" fill="#1e1e1e" class="sf">100</text>
<rect x="322.60" y="585.80" width="11.20" height="23.01" fill="#9f3443"/>
<rect x="322.60" y="608.81" width="11.20" height="48.89" fill="#4b6385"/>
<rect x="339.40" y="585.80" width="11.20" height="56.59" fill="#9f3443"/>
<rect x="339.40" y="642.39" width="11.20" height="15.31" fill="#4b6385"/>
<rect x="355.90" y="585.80" width="11.20" height="42.71" fill="#9f3443"/>
<rect x="355.90" y="628.51" width="11.20" height="29.19" fill="#4b6385"/>
<rect x="372.60" y="585.80" width="11.20" height="49.32" fill="#9f3443"/>
<rect x="372.60" y="635.12" width="11.20" height="22.58" fill="#4b6385"/>
<line x1="328.20" y1="657.70" x2="328.20" y2="660.50" stroke="#1a1a1a" stroke-width="1.0"/>
<text x="331.10" y="667.20" font-size="5.5" text-anchor="end" fill="#222" transform="rotate(-45 331.10 667.20)">CNL</text>
<line x1="345.00" y1="657.70" x2="345.00" y2="660.50" stroke="#1a1a1a" stroke-width="1.0"/>
<text x="347.90" y="667.20" font-size="5.5" text-anchor="end" fill="#222" transform="rotate(-45 347.90 667.20)">aCML</text>
<line x1="361.50" y1="657.70" x2="361.50" y2="660.50" stroke="#1a1a1a" stroke-width="1.0"/>
<text x="364.40" y="667.20" font-size="5.5" text-anchor="end" fill="#222" transform="rotate(-45 364.40 667.20)">Unclassifiable</text>
<line x1="378.20" y1="657.70" x2="378.20" y2="660.50" stroke="#1a1a1a" stroke-width="1.0"/>
<text x="381.10" y="667.20" font-size="5.5" text-anchor="end" fill="#222" transform="rotate(-45 381.10 667.20)">CMML</text>
<text x="352.10" y="569.40" font-size="5.7" text-anchor="middle" fill="#1e1e1e" class="sf" textLength="22.10" lengthAdjust="spacingAndGlyphs">p=0.0012</text>
<rect x="327.20" y="575.8" width="9.1" height="5.3" fill="#9f3443" stroke="#7d2232" stroke-width="0.6"/>
<text x="339.30" y="580.20" font-size="5.8" text-anchor="start" fill="#1e1e1e" textLength="7.80" lengthAdjust="spacingAndGlyphs">Yes</text>
<rect x="357.80" y="575.8" width="9.1" height="5.3" fill="#4b6385" stroke="#334a6a" stroke-width="0.6"/>
<text x="370.30" y="580.20" font-size="5.8" text-anchor="start" fill="#1e1e1e" textLength="6.80" lengthAdjust="spacingAndGlyphs">No</text>
<text x="296.00" y="620.50" font-size="7.2" text-anchor="middle" fill="#222" textLength="55.20" lengthAdjust="spacingAndGlyphs" transform="rotate(-90 296.00 620.50)">BM dysplasia (%)</text>
<line x1="439.80" y1="582.80" x2="439.80" y2="658.30" stroke="#1a1a1a" stroke-width="1.2"/>
<line x1="439.20" y1="657.70" x2="512.60" y2="657.70" stroke="#1a1a1a" stroke-width="1.2"/>
<line x1="436.60" y1="657.70" x2="439.80" y2="657.70" stroke="#1a1a1a" stroke-width="1.0"/>
<text x="433.40" y="659.50" font-size="5.4" text-anchor="end" fill="#1e1e1e" class="sf">0</text>
<line x1="436.60" y1="621.75" x2="439.80" y2="621.75" stroke="#1a1a1a" stroke-width="1.0"/>
<text x="433.40" y="623.55" font-size="5.4" text-anchor="end" fill="#1e1e1e" class="sf">50</text>
<line x1="436.60" y1="585.80" x2="439.80" y2="585.80" stroke="#1a1a1a" stroke-width="1.0"/>
<text x="433.40" y="587.60" font-size="5.4" text-anchor="end" fill="#1e1e1e" class="sf">100</text>
<rect x="445.10" y="585.80" width="11.20" height="9.35" fill="#9f3443"/>
<rect x="445.10" y="595.15" width="11.20" height="62.55" fill="#4b6385"/>
<rect x="461.90" y="585.80" width="11.20" height="50.91" fill="#9f3443"/>
<rect x="461.90" y="636.71" width="11.20" height="20.99" fill="#4b6385"/>
<rect x="478.70" y="585.80" width="11.20" height="10.43" fill="#9f3443"/>
<rect x="478.70" y="596.23" width="11.20" height="61.47" fill="#4b6385"/>
<rect x="495.50" y="585.80" width="11.20" height="34.80" fill="#9f3443"/>
<rect x="495.50" y="620.60" width="11.20" height="37.10" fill="#4b6385"/>
<line x1="450.70" y1="657.70" x2="450.70" y2="660.50" stroke="#1a1a1a" stroke-width="1.0"/>
<text x="453.60" y="667.20" font-size="5.5" text-anchor="end" fill="#222" transform="rotate(-45 453.60 667.20)">CNL</text>
<line x1="467.50" y1="657.70" x2="467.50" y2="660.50" stroke="#1a1a1a" stroke-width="1.0"/>
<text x="470.40" y="667.20" font-size="5.5" text-anchor="end" fill="#222" transform="rotate(-45 470.40 667.20)">aCML</text>
<line x1="484.30" y1="657.70" x2="484.30" y2="660.50" stroke="#1a1a1a" stroke-width="1.0"/>
<text x="487.20" y="667.20" font-size="5.5" text-anchor="end" fill="#222" transform="rotate(-45 487.20 667.20)">Unclassifiable</text>
<line x1="501.10" y1="657.70" x2="501.10" y2="660.50" stroke="#1a1a1a" stroke-width="1.0"/>
<text x="504.00" y="667.20" font-size="5.5" text-anchor="end" fill="#222" transform="rotate(-45 504.00 667.20)">CMML</text>
<text x="474.60" y="569.40" font-size="5.7" text-anchor="middle" fill="#1e1e1e" class="sf" textLength="24.60" lengthAdjust="spacingAndGlyphs">p=0.00002</text>
<rect x="449.50" y="575.8" width="9.1" height="5.3" fill="#9f3443" stroke="#7d2232" stroke-width="0.6"/>
<text x="461.60" y="580.20" font-size="5.8" text-anchor="start" fill="#1e1e1e" textLength="7.80" lengthAdjust="spacingAndGlyphs">Yes</text>
<rect x="480.10" y="575.8" width="9.1" height="5.3" fill="#4b6385" stroke="#334a6a" stroke-width="0.6"/>
<text x="492.60" y="580.20" font-size="5.8" text-anchor="start" fill="#1e1e1e" textLength="6.80" lengthAdjust="spacingAndGlyphs">No</text>
<text x="417.80" y="620.50" font-size="7.2" text-anchor="middle" fill="#222" textLength="52.80" lengthAdjust="spacingAndGlyphs" transform="rotate(-90 417.80 620.50)">PB dysplasia (%)</text>
</svg>
<div class="b" id="br2"></div><div class="b" id="br"></div><div class="b" id="bt2"></div><div class="b" id="bt"></div><div class="b" id="bl2"></div><div class="b" id="bl"></div><div class="b" id="bb2"></div><div class="b" id="bb"></div>
</div></body></html>
